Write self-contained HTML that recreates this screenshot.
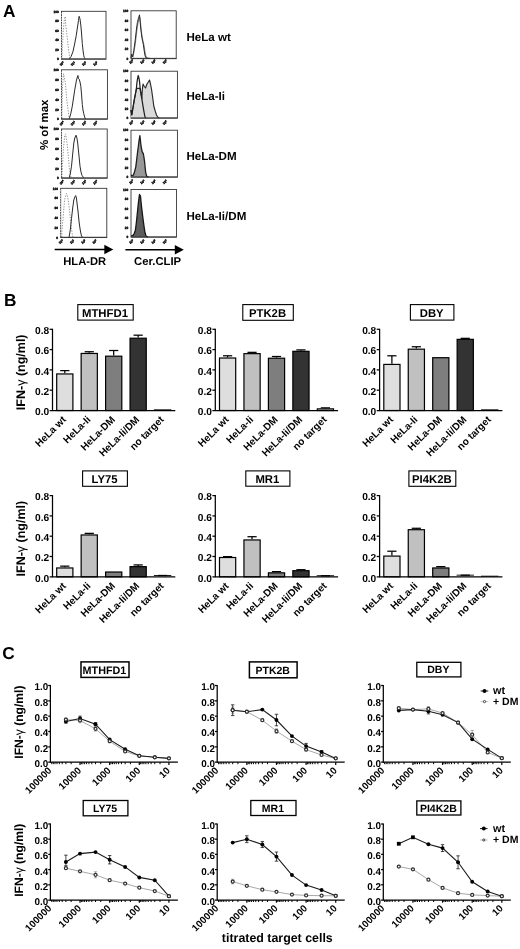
<!DOCTYPE html>
<html lang="en">
<head>
<meta charset="utf-8">
<title>Figure</title>
<style>
html,body{margin:0;padding:0;background:#fff;}
body{width:520px;height:949px;overflow:hidden;}
svg{display:block;}
svg text{font-family:"Liberation Sans", sans-serif;fill:#000;text-rendering:geometricPrecision;}
</style>
</head>
<body>
<svg width="520" height="949" viewBox="0 0 520 949">
<rect x="0" y="0" width="520" height="949" fill="#ffffff"/>
<g id="panelA">
<text x="3.00" y="17.30" font-size="17.3" font-weight="bold" text-anchor="start">A</text>
<rect x="61.5" y="11.3" width="44.5" height="47.9" fill="#fff" stroke="#2c2c2c" stroke-width="0.85"/>
<text x="58.9" y="12.5" font-size="3.2" font-weight="bold" text-anchor="end" fill="#111" stroke="#111" stroke-width="0.4">100</text>
<text x="58.9" y="22.0" font-size="3.2" font-weight="bold" text-anchor="end" fill="#111" stroke="#111" stroke-width="0.4">80</text>
<text x="58.9" y="31.6" font-size="3.2" font-weight="bold" text-anchor="end" fill="#111" stroke="#111" stroke-width="0.4">60</text>
<text x="58.9" y="41.2" font-size="3.2" font-weight="bold" text-anchor="end" fill="#111" stroke="#111" stroke-width="0.4">40</text>
<text x="58.9" y="50.8" font-size="3.2" font-weight="bold" text-anchor="end" fill="#111" stroke="#111" stroke-width="0.4">20</text>
<text x="58.9" y="60.4" font-size="3.2" font-weight="bold" text-anchor="end" fill="#111" stroke="#111" stroke-width="0.4">0</text>
<text x="61.9" y="64.8" font-size="3.2" font-weight="bold" text-anchor="middle" fill="#111" stroke="#111" stroke-width="0.4" transform="rotate(-38 61.9 63.8)">10<tspan dy="-1.2" font-size="2.2">0</tspan></text>
<text x="73.1" y="64.8" font-size="3.2" font-weight="bold" text-anchor="middle" fill="#111" stroke="#111" stroke-width="0.4" transform="rotate(-38 73.1 63.8)">10<tspan dy="-1.2" font-size="2.2">1</tspan></text>
<text x="84.3" y="64.8" font-size="3.2" font-weight="bold" text-anchor="middle" fill="#111" stroke="#111" stroke-width="0.4" transform="rotate(-38 84.3 63.8)">10<tspan dy="-1.2" font-size="2.2">2</tspan></text>
<text x="95.5" y="64.8" font-size="3.2" font-weight="bold" text-anchor="middle" fill="#111" stroke="#111" stroke-width="0.4" transform="rotate(-38 95.5 63.8)">10<tspan dy="-1.2" font-size="2.2">3</tspan></text>
<polyline points="62.0,59.0 62.5,45.0 63.3,30.0 64.4,19.0 65.3,16.5 65.7,25.0 66.4,30.0 67.0,35.8 67.6,41.0 68.2,46.5 68.8,51.0 69.3,54.6 70.0,59.0" fill="none" stroke="#7c7c7c" stroke-width="0.85" stroke-dasharray="1.3 1.4"/>
<line x1="61.5" y1="13.3" x2="61.5" y2="58.2" stroke="#fff" stroke-width="1.3" stroke-dasharray="0.9 1.7" opacity="0.75"/>
<polyline points="69.3,58.8 71.2,56.3 73.1,51.2 74.6,44.0 76.2,35.8 77.5,27.0 78.5,20.4 79.1,16.3 79.9,18.5 80.8,25.0 81.6,34.0 82.3,43.5 83.1,51.0 83.8,55.8 84.4,57.8 85.2,58.8" fill="none" stroke="#2a2a2a" stroke-width="1.0" stroke-linejoin="round"/>
<line x1="61.5" y1="58.85" x2="106.0" y2="58.85" stroke="#333" stroke-width="0.9"/>
<rect x="61.5" y="69.8" width="45.9" height="49.4" fill="#fff" stroke="#2c2c2c" stroke-width="0.85"/>
<text x="58.9" y="71.0" font-size="3.2" font-weight="bold" text-anchor="end" fill="#111" stroke="#111" stroke-width="0.4">100</text>
<text x="58.9" y="80.8" font-size="3.2" font-weight="bold" text-anchor="end" fill="#111" stroke="#111" stroke-width="0.4">80</text>
<text x="58.9" y="90.7" font-size="3.2" font-weight="bold" text-anchor="end" fill="#111" stroke="#111" stroke-width="0.4">60</text>
<text x="58.9" y="100.6" font-size="3.2" font-weight="bold" text-anchor="end" fill="#111" stroke="#111" stroke-width="0.4">40</text>
<text x="58.9" y="110.5" font-size="3.2" font-weight="bold" text-anchor="end" fill="#111" stroke="#111" stroke-width="0.4">20</text>
<text x="58.9" y="120.4" font-size="3.2" font-weight="bold" text-anchor="end" fill="#111" stroke="#111" stroke-width="0.4">0</text>
<text x="61.9" y="124.4" font-size="3.2" font-weight="bold" text-anchor="middle" fill="#111" stroke="#111" stroke-width="0.4" transform="rotate(-38 61.9 123.4)">10<tspan dy="-1.2" font-size="2.2">0</tspan></text>
<text x="73.1" y="124.4" font-size="3.2" font-weight="bold" text-anchor="middle" fill="#111" stroke="#111" stroke-width="0.4" transform="rotate(-38 73.1 123.4)">10<tspan dy="-1.2" font-size="2.2">1</tspan></text>
<text x="84.3" y="124.4" font-size="3.2" font-weight="bold" text-anchor="middle" fill="#111" stroke="#111" stroke-width="0.4" transform="rotate(-38 84.3 123.4)">10<tspan dy="-1.2" font-size="2.2">2</tspan></text>
<text x="95.5" y="124.4" font-size="3.2" font-weight="bold" text-anchor="middle" fill="#111" stroke="#111" stroke-width="0.4" transform="rotate(-38 95.5 123.4)">10<tspan dy="-1.2" font-size="2.2">3</tspan></text>
<polyline points="61.9,118.0 62.2,100.0 62.6,85.0 63.5,73.8 64.4,78.0 65.4,83.0 66.0,90.0 66.6,98.5 67.4,105.0 68.2,110.8 69.2,118.0" fill="none" stroke="#7c7c7c" stroke-width="0.85" stroke-dasharray="1.3 1.4"/>
<line x1="61.5" y1="71.8" x2="61.5" y2="118.2" stroke="#fff" stroke-width="1.3" stroke-dasharray="0.9 1.7" opacity="0.75"/>
<polyline points="69.3,118.8 70.8,113.5 72.3,106.2 73.5,98.0 74.6,90.8 75.6,85.0 76.5,80.0 77.9,75.5 78.5,78.6 79.2,79.2 80.0,82.0 80.8,86.2 81.6,95.0 82.3,104.6 83.0,110.0 83.8,113.8 84.6,117.0 85.5,118.8" fill="none" stroke="#2a2a2a" stroke-width="1.0" stroke-linejoin="round"/>
<line x1="61.5" y1="118.85" x2="107.4" y2="118.85" stroke="#333" stroke-width="0.9"/>
<rect x="61.5" y="129.0" width="45.7" height="49.2" fill="#fff" stroke="#2c2c2c" stroke-width="0.85"/>
<text x="58.9" y="130.2" font-size="3.2" font-weight="bold" text-anchor="end" fill="#111" stroke="#111" stroke-width="0.4">100</text>
<text x="58.9" y="140.0" font-size="3.2" font-weight="bold" text-anchor="end" fill="#111" stroke="#111" stroke-width="0.4">80</text>
<text x="58.9" y="149.8" font-size="3.2" font-weight="bold" text-anchor="end" fill="#111" stroke="#111" stroke-width="0.4">60</text>
<text x="58.9" y="159.7" font-size="3.2" font-weight="bold" text-anchor="end" fill="#111" stroke="#111" stroke-width="0.4">40</text>
<text x="58.9" y="169.5" font-size="3.2" font-weight="bold" text-anchor="end" fill="#111" stroke="#111" stroke-width="0.4">20</text>
<text x="58.9" y="179.3" font-size="3.2" font-weight="bold" text-anchor="end" fill="#111" stroke="#111" stroke-width="0.4">0</text>
<text x="61.9" y="183.4" font-size="3.2" font-weight="bold" text-anchor="middle" fill="#111" stroke="#111" stroke-width="0.4" transform="rotate(-38 61.9 182.4)">10<tspan dy="-1.2" font-size="2.2">0</tspan></text>
<text x="73.1" y="183.4" font-size="3.2" font-weight="bold" text-anchor="middle" fill="#111" stroke="#111" stroke-width="0.4" transform="rotate(-38 73.1 182.4)">10<tspan dy="-1.2" font-size="2.2">1</tspan></text>
<text x="84.3" y="183.4" font-size="3.2" font-weight="bold" text-anchor="middle" fill="#111" stroke="#111" stroke-width="0.4" transform="rotate(-38 84.3 182.4)">10<tspan dy="-1.2" font-size="2.2">2</tspan></text>
<text x="95.5" y="183.4" font-size="3.2" font-weight="bold" text-anchor="middle" fill="#111" stroke="#111" stroke-width="0.4" transform="rotate(-38 95.5 182.4)">10<tspan dy="-1.2" font-size="2.2">3</tspan></text>
<polyline points="61.9,177.5 62.5,165.0 63.5,148.0 64.8,134.8 65.6,134.0 66.3,138.0 67.0,143.0 67.8,150.0 68.5,158.5 69.3,168.0 70.3,174.0 71.0,177.5" fill="none" stroke="#7c7c7c" stroke-width="0.85" stroke-dasharray="1.3 1.4"/>
<line x1="61.5" y1="131.0" x2="61.5" y2="177.2" stroke="#fff" stroke-width="1.3" stroke-dasharray="0.9 1.7" opacity="0.75"/>
<polyline points="69.3,177.8 70.4,173.0 71.5,166.2 72.7,154.0 73.8,143.0 74.8,138.0 76.0,135.2 76.9,138.0 77.7,143.0 78.8,154.0 80.0,166.2 81.0,172.0 82.0,175.4 83.7,177.8" fill="none" stroke="#2a2a2a" stroke-width="1.0" stroke-linejoin="round"/>
<line x1="61.5" y1="177.85" x2="107.2" y2="177.85" stroke="#333" stroke-width="0.9"/>
<rect x="60.7" y="188.3" width="46.1" height="49.3" fill="#fff" stroke="#2c2c2c" stroke-width="0.85"/>
<text x="58.1" y="189.5" font-size="3.2" font-weight="bold" text-anchor="end" fill="#111" stroke="#111" stroke-width="0.4">100</text>
<text x="58.1" y="199.3" font-size="3.2" font-weight="bold" text-anchor="end" fill="#111" stroke="#111" stroke-width="0.4">80</text>
<text x="58.1" y="209.2" font-size="3.2" font-weight="bold" text-anchor="end" fill="#111" stroke="#111" stroke-width="0.4">60</text>
<text x="58.1" y="219.0" font-size="3.2" font-weight="bold" text-anchor="end" fill="#111" stroke="#111" stroke-width="0.4">40</text>
<text x="58.1" y="228.9" font-size="3.2" font-weight="bold" text-anchor="end" fill="#111" stroke="#111" stroke-width="0.4">20</text>
<text x="58.1" y="238.8" font-size="3.2" font-weight="bold" text-anchor="end" fill="#111" stroke="#111" stroke-width="0.4">0</text>
<text x="61.1" y="242.8" font-size="3.2" font-weight="bold" text-anchor="middle" fill="#111" stroke="#111" stroke-width="0.4" transform="rotate(-38 61.1 241.8)">10<tspan dy="-1.2" font-size="2.2">0</tspan></text>
<text x="72.3" y="242.8" font-size="3.2" font-weight="bold" text-anchor="middle" fill="#111" stroke="#111" stroke-width="0.4" transform="rotate(-38 72.3 241.8)">10<tspan dy="-1.2" font-size="2.2">1</tspan></text>
<text x="83.5" y="242.8" font-size="3.2" font-weight="bold" text-anchor="middle" fill="#111" stroke="#111" stroke-width="0.4" transform="rotate(-38 83.5 241.8)">10<tspan dy="-1.2" font-size="2.2">2</tspan></text>
<text x="94.7" y="242.8" font-size="3.2" font-weight="bold" text-anchor="middle" fill="#111" stroke="#111" stroke-width="0.4" transform="rotate(-38 94.7 241.8)">10<tspan dy="-1.2" font-size="2.2">3</tspan></text>
<polyline points="61.6,237.0 62.2,228.0 63.0,218.5 63.8,209.0 64.6,200.0 65.6,196.0 66.4,193.6 67.4,196.0 68.2,200.0 69.3,208.5 70.0,215.0 70.5,220.0 71.4,228.0 72.2,234.0 73.0,237.0" fill="none" stroke="#7c7c7c" stroke-width="0.85" stroke-dasharray="1.3 1.4"/>
<line x1="60.7" y1="190.3" x2="60.7" y2="236.6" stroke="#fff" stroke-width="1.3" stroke-dasharray="0.9 1.7" opacity="0.75"/>
<polyline points="69.1,237.2 70.4,229.0 71.5,218.5 72.7,208.0 73.8,200.0 74.8,197.0 75.7,195.6 76.4,198.0 77.0,203.0 78.1,212.0 79.2,223.0 80.4,231.0 81.5,236.0 82.6,237.2" fill="none" stroke="#2a2a2a" stroke-width="1.0" stroke-linejoin="round"/>
<line x1="60.7" y1="237.25" x2="106.8" y2="237.25" stroke="#333" stroke-width="0.9"/>
<rect x="131.0" y="10.8" width="45.2" height="47.9" fill="#fff" stroke="#2c2c2c" stroke-width="0.85"/>
<text x="128.4" y="12.0" font-size="3.2" font-weight="bold" text-anchor="end" fill="#111" stroke="#111" stroke-width="0.4">100</text>
<text x="128.4" y="21.5" font-size="3.2" font-weight="bold" text-anchor="end" fill="#111" stroke="#111" stroke-width="0.4">80</text>
<text x="128.4" y="31.1" font-size="3.2" font-weight="bold" text-anchor="end" fill="#111" stroke="#111" stroke-width="0.4">60</text>
<text x="128.4" y="40.7" font-size="3.2" font-weight="bold" text-anchor="end" fill="#111" stroke="#111" stroke-width="0.4">40</text>
<text x="128.4" y="50.3" font-size="3.2" font-weight="bold" text-anchor="end" fill="#111" stroke="#111" stroke-width="0.4">20</text>
<text x="128.4" y="59.9" font-size="3.2" font-weight="bold" text-anchor="end" fill="#111" stroke="#111" stroke-width="0.4">0</text>
<text x="131.4" y="62.8" font-size="3.2" font-weight="bold" text-anchor="middle" fill="#111" stroke="#111" stroke-width="0.4" transform="rotate(-38 131.4 61.8)">10<tspan dy="-1.2" font-size="2.2">0</tspan></text>
<text x="142.6" y="62.8" font-size="3.2" font-weight="bold" text-anchor="middle" fill="#111" stroke="#111" stroke-width="0.4" transform="rotate(-38 142.6 61.8)">10<tspan dy="-1.2" font-size="2.2">1</tspan></text>
<text x="153.8" y="62.8" font-size="3.2" font-weight="bold" text-anchor="middle" fill="#111" stroke="#111" stroke-width="0.4" transform="rotate(-38 153.8 61.8)">10<tspan dy="-1.2" font-size="2.2">2</tspan></text>
<text x="165.0" y="62.8" font-size="3.2" font-weight="bold" text-anchor="middle" fill="#111" stroke="#111" stroke-width="0.4" transform="rotate(-38 165.0 61.8)">10<tspan dy="-1.2" font-size="2.2">3</tspan></text>
<polyline points="131.0,58.2 131.9,55.0 133.0,56.6 134.3,50.0 135.5,42.0 136.3,35.0 137.1,28.5 137.9,23.5 138.8,19.5 139.8,17.0 140.5,23.0 141.2,30.0 142.0,36.0 142.7,40.0 143.5,43.0 144.3,47.0 145.1,52.5 145.9,56.3 146.9,57.8 148.2,58.3" fill="none" stroke="#8a8a8a" stroke-width="1.1"/>
<polyline points="131.0,58.2 131.5,54.0 132.6,56.8 133.8,50.5 135.0,42.0 135.8,35.0 136.6,28.0 137.4,22.5 138.4,18.5 139.5,14.8 140.0,20.0 140.6,27.0 141.3,33.0 142.0,38.0 142.7,41.5 143.3,44.2 144.1,50.0 144.9,55.0 145.7,57.5 147.2,58.3 150.0,58.4" fill="none" stroke="#2a2a2a" stroke-width="1.0"/>
<line x1="131.0" y1="58.35" x2="176.2" y2="58.35" stroke="#333" stroke-width="0.9"/>
<rect x="131.0" y="71.2" width="46.4" height="47.0" fill="#fff" stroke="#2c2c2c" stroke-width="0.85"/>
<text x="128.4" y="72.4" font-size="3.2" font-weight="bold" text-anchor="end" fill="#111" stroke="#111" stroke-width="0.4">100</text>
<text x="128.4" y="81.8" font-size="3.2" font-weight="bold" text-anchor="end" fill="#111" stroke="#111" stroke-width="0.4">80</text>
<text x="128.4" y="91.2" font-size="3.2" font-weight="bold" text-anchor="end" fill="#111" stroke="#111" stroke-width="0.4">60</text>
<text x="128.4" y="100.6" font-size="3.2" font-weight="bold" text-anchor="end" fill="#111" stroke="#111" stroke-width="0.4">40</text>
<text x="128.4" y="110.0" font-size="3.2" font-weight="bold" text-anchor="end" fill="#111" stroke="#111" stroke-width="0.4">20</text>
<text x="128.4" y="119.4" font-size="3.2" font-weight="bold" text-anchor="end" fill="#111" stroke="#111" stroke-width="0.4">0</text>
<text x="131.4" y="123.8" font-size="3.2" font-weight="bold" text-anchor="middle" fill="#111" stroke="#111" stroke-width="0.4" transform="rotate(-38 131.4 122.8)">10<tspan dy="-1.2" font-size="2.2">0</tspan></text>
<text x="142.6" y="123.8" font-size="3.2" font-weight="bold" text-anchor="middle" fill="#111" stroke="#111" stroke-width="0.4" transform="rotate(-38 142.6 122.8)">10<tspan dy="-1.2" font-size="2.2">1</tspan></text>
<text x="153.8" y="123.8" font-size="3.2" font-weight="bold" text-anchor="middle" fill="#111" stroke="#111" stroke-width="0.4" transform="rotate(-38 153.8 122.8)">10<tspan dy="-1.2" font-size="2.2">2</tspan></text>
<text x="165.0" y="123.8" font-size="3.2" font-weight="bold" text-anchor="middle" fill="#111" stroke="#111" stroke-width="0.4" transform="rotate(-38 165.0 122.8)">10<tspan dy="-1.2" font-size="2.2">3</tspan></text>
<polygon points="131.0,110.0 131.8,114.8 132.6,110.0 133.5,104.5 134.5,98.6 135.5,93.5 136.4,88.8 137.2,88.4 139.3,88.4 140.2,88.8 141.0,93.7 141.8,98.6 142.3,90.0 143.0,84.0 144.3,86.5 145.5,88.0 147.0,84.0 148.3,82.0 149.5,80.0 150.5,84.0 151.5,89.0 152.6,97.0 153.8,106.0 155.2,111.0 156.5,115.0 157.7,117.0 159.2,117.9 131.0,117.9" fill="#dadada" stroke="none"/>
<polyline points="131.0,110.0 131.8,114.8 132.6,110.0 133.5,104.5 134.5,98.6 135.5,93.5 136.4,88.8 137.2,88.4 139.3,88.4 140.2,88.8 141.0,93.7 141.8,98.6 142.3,90.0 143.0,84.0 144.3,86.5 145.5,88.0 147.0,84.0 148.3,82.0 149.5,80.0 150.5,84.0 151.5,89.0 152.6,97.0 153.8,106.0 155.2,111.0 156.5,115.0 157.7,117.0 159.2,117.9" fill="none" stroke="#2a2a2a" stroke-width="1.15" stroke-linejoin="round"/>
<polyline points="131.0,110.0 131.8,114.8 132.6,110.0 133.5,104.5 134.5,98.6 135.5,93.5 136.4,88.8 136.8,84.0 137.3,80.0 138.2,75.5 139.0,78.5 139.5,81.3 140.2,88.8 141.0,93.7 141.8,98.6 142.6,103.5 143.3,107.8 144.2,113.0 145.0,117.0 146.0,117.9" fill="none" stroke="#1e1e1e" stroke-width="1.25" stroke-linejoin="round"/>
<line x1="131.0" y1="117.85" x2="177.4" y2="117.85" stroke="#333" stroke-width="0.9"/>
<rect x="131.0" y="130.2" width="46.4" height="47.0" fill="#fff" stroke="#2c2c2c" stroke-width="0.85"/>
<text x="128.4" y="131.3" font-size="3.2" font-weight="bold" text-anchor="end" fill="#111" stroke="#111" stroke-width="0.4">100</text>
<text x="128.4" y="140.8" font-size="3.2" font-weight="bold" text-anchor="end" fill="#111" stroke="#111" stroke-width="0.4">80</text>
<text x="128.4" y="150.2" font-size="3.2" font-weight="bold" text-anchor="end" fill="#111" stroke="#111" stroke-width="0.4">60</text>
<text x="128.4" y="159.5" font-size="3.2" font-weight="bold" text-anchor="end" fill="#111" stroke="#111" stroke-width="0.4">40</text>
<text x="128.4" y="168.9" font-size="3.2" font-weight="bold" text-anchor="end" fill="#111" stroke="#111" stroke-width="0.4">20</text>
<text x="128.4" y="178.3" font-size="3.2" font-weight="bold" text-anchor="end" fill="#111" stroke="#111" stroke-width="0.4">0</text>
<text x="131.4" y="183.0" font-size="3.2" font-weight="bold" text-anchor="middle" fill="#111" stroke="#111" stroke-width="0.4" transform="rotate(-38 131.4 182.0)">10<tspan dy="-1.2" font-size="2.2">0</tspan></text>
<text x="142.6" y="183.0" font-size="3.2" font-weight="bold" text-anchor="middle" fill="#111" stroke="#111" stroke-width="0.4" transform="rotate(-38 142.6 182.0)">10<tspan dy="-1.2" font-size="2.2">1</tspan></text>
<text x="153.8" y="183.0" font-size="3.2" font-weight="bold" text-anchor="middle" fill="#111" stroke="#111" stroke-width="0.4" transform="rotate(-38 153.8 182.0)">10<tspan dy="-1.2" font-size="2.2">2</tspan></text>
<text x="165.0" y="183.0" font-size="3.2" font-weight="bold" text-anchor="middle" fill="#111" stroke="#111" stroke-width="0.4" transform="rotate(-38 165.0 182.0)">10<tspan dy="-1.2" font-size="2.2">3</tspan></text>
<polygon points="131.0,175.2 132.2,175.6 133.5,175.0 134.6,171.5 135.8,166.8 136.7,159.5 137.6,151.8 138.4,146.0 139.1,140.3 139.9,135.7 140.5,141.0 141.0,146.0 141.6,149.0 142.2,151.8 143.3,153.6 143.9,157.0 144.5,161.0 145.1,167.0 145.7,172.6 146.8,176.4 148.5,176.9 131.0,176.9" fill="#989898" stroke="none"/>
<polyline points="131.0,175.2 132.2,175.6 133.5,175.0 134.6,171.5 135.8,166.8 136.7,159.5 137.6,151.8 138.4,146.0 139.1,140.3 139.9,135.7 140.5,141.0 141.0,146.0 141.6,149.0 142.2,151.8 143.3,153.6 143.9,157.0 144.5,161.0 145.1,167.0 145.7,172.6 146.8,176.4 148.5,176.9" fill="none" stroke="#1e1e1e" stroke-width="1.3" stroke-linejoin="round"/>
<line x1="131.0" y1="176.85" x2="177.4" y2="176.85" stroke="#333" stroke-width="0.9"/>
<rect x="131.0" y="189.5" width="45.5" height="47.7" fill="#fff" stroke="#2c2c2c" stroke-width="0.85"/>
<text x="128.4" y="190.7" font-size="3.2" font-weight="bold" text-anchor="end" fill="#111" stroke="#111" stroke-width="0.4">100</text>
<text x="128.4" y="200.2" font-size="3.2" font-weight="bold" text-anchor="end" fill="#111" stroke="#111" stroke-width="0.4">80</text>
<text x="128.4" y="209.7" font-size="3.2" font-weight="bold" text-anchor="end" fill="#111" stroke="#111" stroke-width="0.4">60</text>
<text x="128.4" y="219.3" font-size="3.2" font-weight="bold" text-anchor="end" fill="#111" stroke="#111" stroke-width="0.4">40</text>
<text x="128.4" y="228.8" font-size="3.2" font-weight="bold" text-anchor="end" fill="#111" stroke="#111" stroke-width="0.4">20</text>
<text x="128.4" y="238.3" font-size="3.2" font-weight="bold" text-anchor="end" fill="#111" stroke="#111" stroke-width="0.4">0</text>
<text x="131.4" y="242.8" font-size="3.2" font-weight="bold" text-anchor="middle" fill="#111" stroke="#111" stroke-width="0.4" transform="rotate(-38 131.4 241.8)">10<tspan dy="-1.2" font-size="2.2">0</tspan></text>
<text x="142.6" y="242.8" font-size="3.2" font-weight="bold" text-anchor="middle" fill="#111" stroke="#111" stroke-width="0.4" transform="rotate(-38 142.6 241.8)">10<tspan dy="-1.2" font-size="2.2">1</tspan></text>
<text x="153.8" y="242.8" font-size="3.2" font-weight="bold" text-anchor="middle" fill="#111" stroke="#111" stroke-width="0.4" transform="rotate(-38 153.8 241.8)">10<tspan dy="-1.2" font-size="2.2">2</tspan></text>
<text x="165.0" y="242.8" font-size="3.2" font-weight="bold" text-anchor="middle" fill="#111" stroke="#111" stroke-width="0.4" transform="rotate(-38 165.0 241.8)">10<tspan dy="-1.2" font-size="2.2">3</tspan></text>
<polygon points="131.0,236.0 133.0,235.3 134.2,233.5 135.3,230.5 136.2,224.0 137.0,216.6 137.7,209.5 138.4,202.8 139.0,198.0 139.5,194.5 140.5,196.4 141.0,201.5 141.6,207.4 142.4,214.0 143.3,221.2 144.2,227.5 145.0,232.8 146.2,236.4 148.0,236.9 131.0,236.9" fill="#5c5c5c" stroke="none"/>
<polyline points="131.0,236.0 133.0,235.3 134.2,233.5 135.3,230.5 136.2,224.0 137.0,216.6 137.7,209.5 138.4,202.8 139.0,198.0 139.5,194.5 140.5,196.4 141.0,201.5 141.6,207.4 142.4,214.0 143.3,221.2 144.2,227.5 145.0,232.8 146.2,236.4 148.0,236.9" fill="none" stroke="#161616" stroke-width="1.3" stroke-linejoin="round"/>
<line x1="131.0" y1="236.85" x2="176.5" y2="236.85" stroke="#333" stroke-width="0.9"/>
<text x="186.40" y="40.80" font-size="11.6" font-weight="bold" text-anchor="start">HeLa wt</text>
<text x="186.40" y="100.40" font-size="11.6" font-weight="bold" text-anchor="start">HeLa-Ii</text>
<text x="186.40" y="160.40" font-size="11.6" font-weight="bold" text-anchor="start">HeLa-DM</text>
<text x="186.40" y="220.10" font-size="11.6" font-weight="bold" text-anchor="start">HeLa-Ii/DM</text>
<text x="47.70" y="124.80" font-size="11.5" font-weight="bold" text-anchor="middle" transform="rotate(-90 47.70 124.80)">% of max</text>
<line x1="54.7" y1="249.5" x2="105.3" y2="249.5" stroke="#000" stroke-width="1.6"/>
<polygon points="104.3,244.7 113.3,249.5 104.3,254.3" fill="#000"/>
<line x1="125.4" y1="249.8" x2="175.8" y2="249.8" stroke="#000" stroke-width="1.6"/>
<polygon points="174.8,245.0 183.8,249.8 174.8,254.6" fill="#000"/>
<text x="84.70" y="264.60" font-size="11.2" font-weight="bold" text-anchor="middle">HLA-DR</text>
<text x="157.60" y="264.60" font-size="11.3" font-weight="bold" text-anchor="middle">Cer.CLIP</text>
</g>
<g id="panelB">
<text x="4.00" y="306.30" font-size="17.3" font-weight="bold" text-anchor="start">B</text>
<line x1="64.80" y1="373.35" x2="64.80" y2="370.61" stroke="#000" stroke-width="1.25"/>
<line x1="60.20" y1="370.61" x2="69.40" y2="370.61" stroke="#000" stroke-width="1.25"/>
<rect x="56.70" y="373.95" width="16.20" height="36.55" fill="#dedede" stroke="#000" stroke-width="1.2"/>
<line x1="89.25" y1="352.85" x2="89.25" y2="351.73" stroke="#000" stroke-width="1.25"/>
<line x1="84.65" y1="351.73" x2="93.85" y2="351.73" stroke="#000" stroke-width="1.25"/>
<rect x="81.15" y="353.45" width="16.20" height="57.05" fill="#c0c0c0" stroke="#000" stroke-width="1.2"/>
<line x1="113.70" y1="355.59" x2="113.70" y2="350.51" stroke="#000" stroke-width="1.25"/>
<line x1="109.10" y1="350.51" x2="118.30" y2="350.51" stroke="#000" stroke-width="1.25"/>
<rect x="105.60" y="356.19" width="16.20" height="54.31" fill="#7e7e7e" stroke="#000" stroke-width="1.2"/>
<line x1="138.15" y1="337.62" x2="138.15" y2="335.19" stroke="#000" stroke-width="1.25"/>
<line x1="133.55" y1="335.19" x2="142.75" y2="335.19" stroke="#000" stroke-width="1.25"/>
<rect x="130.05" y="338.22" width="16.20" height="72.28" fill="#333333" stroke="#000" stroke-width="1.2"/>
<line x1="153.90" y1="409.79" x2="171.30" y2="409.79" stroke="#000" stroke-width="0.9"/>
<line x1="52.50" y1="328.75" x2="52.50" y2="411.05" stroke="#000" stroke-width="1.25"/>
<line x1="49.60" y1="410.50" x2="175.30" y2="410.50" stroke="#000" stroke-width="1.25"/>
<text x="49.20" y="415.30" font-size="10.2" font-weight="bold" text-anchor="end">0.0</text>
<line x1="49.60" y1="390.20" x2="52.50" y2="390.20" stroke="#000" stroke-width="1.25"/>
<text x="49.20" y="395.00" font-size="10.2" font-weight="bold" text-anchor="end">0.2</text>
<line x1="49.60" y1="369.90" x2="52.50" y2="369.90" stroke="#000" stroke-width="1.25"/>
<text x="49.20" y="374.70" font-size="10.2" font-weight="bold" text-anchor="end">0.4</text>
<line x1="49.60" y1="349.60" x2="52.50" y2="349.60" stroke="#000" stroke-width="1.25"/>
<text x="49.20" y="354.40" font-size="10.2" font-weight="bold" text-anchor="end">0.6</text>
<line x1="49.60" y1="329.30" x2="52.50" y2="329.30" stroke="#000" stroke-width="1.25"/>
<text x="49.20" y="334.10" font-size="10.2" font-weight="bold" text-anchor="end">0.8</text>
<text x="66.70" y="420.20" font-size="10.1" font-weight="bold" text-anchor="end" transform="rotate(-45 66.70 420.20)">HeLa wt</text>
<text x="91.15" y="420.20" font-size="10.1" font-weight="bold" text-anchor="end" transform="rotate(-45 91.15 420.20)">HeLa-Ii</text>
<text x="115.60" y="420.20" font-size="10.1" font-weight="bold" text-anchor="end" transform="rotate(-45 115.60 420.20)">HeLa-DM</text>
<text x="140.05" y="420.20" font-size="10.1" font-weight="bold" text-anchor="end" transform="rotate(-45 140.05 420.20)">HeLa-Ii/DM</text>
<text x="164.50" y="420.20" font-size="10.1" font-weight="bold" text-anchor="end" transform="rotate(-45 164.50 420.20)">no target</text>
<line x1="227.60" y1="357.42" x2="227.60" y2="355.79" stroke="#000" stroke-width="1.25"/>
<line x1="223.00" y1="355.79" x2="232.20" y2="355.79" stroke="#000" stroke-width="1.25"/>
<rect x="219.50" y="358.02" width="16.20" height="52.48" fill="#dedede" stroke="#000" stroke-width="1.2"/>
<line x1="252.05" y1="353.05" x2="252.05" y2="352.34" stroke="#000" stroke-width="1.25"/>
<line x1="247.45" y1="352.34" x2="256.65" y2="352.34" stroke="#000" stroke-width="1.25"/>
<rect x="243.95" y="353.65" width="16.20" height="56.85" fill="#c0c0c0" stroke="#000" stroke-width="1.2"/>
<line x1="276.50" y1="357.62" x2="276.50" y2="356.50" stroke="#000" stroke-width="1.25"/>
<line x1="271.90" y1="356.50" x2="281.10" y2="356.50" stroke="#000" stroke-width="1.25"/>
<rect x="268.40" y="358.22" width="16.20" height="52.28" fill="#7e7e7e" stroke="#000" stroke-width="1.2"/>
<line x1="300.95" y1="350.72" x2="300.95" y2="349.90" stroke="#000" stroke-width="1.25"/>
<line x1="296.35" y1="349.90" x2="305.55" y2="349.90" stroke="#000" stroke-width="1.25"/>
<rect x="292.85" y="351.32" width="16.20" height="59.18" fill="#333333" stroke="#000" stroke-width="1.2"/>
<line x1="325.40" y1="408.27" x2="325.40" y2="407.86" stroke="#000" stroke-width="1.25"/>
<line x1="320.80" y1="407.86" x2="330.00" y2="407.86" stroke="#000" stroke-width="1.25"/>
<rect x="317.30" y="408.87" width="16.20" height="1.63" fill="#e8e8e8" stroke="#000" stroke-width="1.2"/>
<line x1="215.30" y1="328.75" x2="215.30" y2="411.05" stroke="#000" stroke-width="1.25"/>
<line x1="212.40" y1="410.50" x2="338.10" y2="410.50" stroke="#000" stroke-width="1.25"/>
<text x="212.00" y="415.30" font-size="10.2" font-weight="bold" text-anchor="end">0.0</text>
<line x1="212.40" y1="390.20" x2="215.30" y2="390.20" stroke="#000" stroke-width="1.25"/>
<text x="212.00" y="395.00" font-size="10.2" font-weight="bold" text-anchor="end">0.2</text>
<line x1="212.40" y1="369.90" x2="215.30" y2="369.90" stroke="#000" stroke-width="1.25"/>
<text x="212.00" y="374.70" font-size="10.2" font-weight="bold" text-anchor="end">0.4</text>
<line x1="212.40" y1="349.60" x2="215.30" y2="349.60" stroke="#000" stroke-width="1.25"/>
<text x="212.00" y="354.40" font-size="10.2" font-weight="bold" text-anchor="end">0.6</text>
<line x1="212.40" y1="329.30" x2="215.30" y2="329.30" stroke="#000" stroke-width="1.25"/>
<text x="212.00" y="334.10" font-size="10.2" font-weight="bold" text-anchor="end">0.8</text>
<text x="229.50" y="420.20" font-size="10.1" font-weight="bold" text-anchor="end" transform="rotate(-45 229.50 420.20)">HeLa wt</text>
<text x="253.95" y="420.20" font-size="10.1" font-weight="bold" text-anchor="end" transform="rotate(-45 253.95 420.20)">HeLa-Ii</text>
<text x="278.40" y="420.20" font-size="10.1" font-weight="bold" text-anchor="end" transform="rotate(-45 278.40 420.20)">HeLa-DM</text>
<text x="302.85" y="420.20" font-size="10.1" font-weight="bold" text-anchor="end" transform="rotate(-45 302.85 420.20)">HeLa-Ii/DM</text>
<text x="327.30" y="420.20" font-size="10.1" font-weight="bold" text-anchor="end" transform="rotate(-45 327.30 420.20)">no target</text>
<line x1="391.90" y1="363.81" x2="391.90" y2="355.79" stroke="#000" stroke-width="1.25"/>
<line x1="387.30" y1="355.79" x2="396.50" y2="355.79" stroke="#000" stroke-width="1.25"/>
<rect x="383.80" y="364.41" width="16.20" height="46.09" fill="#dedede" stroke="#000" stroke-width="1.2"/>
<line x1="416.35" y1="348.59" x2="416.35" y2="346.76" stroke="#000" stroke-width="1.25"/>
<line x1="411.75" y1="346.76" x2="420.95" y2="346.76" stroke="#000" stroke-width="1.25"/>
<rect x="408.25" y="349.19" width="16.20" height="61.31" fill="#c0c0c0" stroke="#000" stroke-width="1.2"/>
<rect x="432.70" y="357.71" width="16.20" height="52.79" fill="#7e7e7e" stroke="#000" stroke-width="1.2"/>
<line x1="465.25" y1="338.74" x2="465.25" y2="338.33" stroke="#000" stroke-width="1.25"/>
<line x1="460.65" y1="338.33" x2="469.85" y2="338.33" stroke="#000" stroke-width="1.25"/>
<rect x="457.15" y="339.34" width="16.20" height="71.16" fill="#333333" stroke="#000" stroke-width="1.2"/>
<line x1="481.00" y1="409.79" x2="498.40" y2="409.79" stroke="#000" stroke-width="0.9"/>
<line x1="379.60" y1="328.75" x2="379.60" y2="411.05" stroke="#000" stroke-width="1.25"/>
<line x1="376.70" y1="410.50" x2="502.40" y2="410.50" stroke="#000" stroke-width="1.25"/>
<text x="376.30" y="415.30" font-size="10.2" font-weight="bold" text-anchor="end">0.0</text>
<line x1="376.70" y1="390.20" x2="379.60" y2="390.20" stroke="#000" stroke-width="1.25"/>
<text x="376.30" y="395.00" font-size="10.2" font-weight="bold" text-anchor="end">0.2</text>
<line x1="376.70" y1="369.90" x2="379.60" y2="369.90" stroke="#000" stroke-width="1.25"/>
<text x="376.30" y="374.70" font-size="10.2" font-weight="bold" text-anchor="end">0.4</text>
<line x1="376.70" y1="349.60" x2="379.60" y2="349.60" stroke="#000" stroke-width="1.25"/>
<text x="376.30" y="354.40" font-size="10.2" font-weight="bold" text-anchor="end">0.6</text>
<line x1="376.70" y1="329.30" x2="379.60" y2="329.30" stroke="#000" stroke-width="1.25"/>
<text x="376.30" y="334.10" font-size="10.2" font-weight="bold" text-anchor="end">0.8</text>
<text x="393.80" y="420.20" font-size="10.1" font-weight="bold" text-anchor="end" transform="rotate(-45 393.80 420.20)">HeLa wt</text>
<text x="418.25" y="420.20" font-size="10.1" font-weight="bold" text-anchor="end" transform="rotate(-45 418.25 420.20)">HeLa-Ii</text>
<text x="442.70" y="420.20" font-size="10.1" font-weight="bold" text-anchor="end" transform="rotate(-45 442.70 420.20)">HeLa-DM</text>
<text x="467.15" y="420.20" font-size="10.1" font-weight="bold" text-anchor="end" transform="rotate(-45 467.15 420.20)">HeLa-Ii/DM</text>
<text x="491.60" y="420.20" font-size="10.1" font-weight="bold" text-anchor="end" transform="rotate(-45 491.60 420.20)">no target</text>
<line x1="64.80" y1="567.36" x2="64.80" y2="566.14" stroke="#000" stroke-width="1.25"/>
<line x1="60.20" y1="566.14" x2="69.40" y2="566.14" stroke="#000" stroke-width="1.25"/>
<rect x="56.70" y="567.96" width="16.20" height="8.84" fill="#dedede" stroke="#000" stroke-width="1.2"/>
<line x1="89.25" y1="534.37" x2="89.25" y2="533.36" stroke="#000" stroke-width="1.25"/>
<line x1="84.65" y1="533.36" x2="93.85" y2="533.36" stroke="#000" stroke-width="1.25"/>
<rect x="81.15" y="534.97" width="16.20" height="41.83" fill="#c0c0c0" stroke="#000" stroke-width="1.2"/>
<rect x="105.60" y="572.02" width="16.20" height="4.78" fill="#7e7e7e" stroke="#000" stroke-width="1.2"/>
<line x1="138.15" y1="566.04" x2="138.15" y2="564.92" stroke="#000" stroke-width="1.25"/>
<line x1="133.55" y1="564.92" x2="142.75" y2="564.92" stroke="#000" stroke-width="1.25"/>
<rect x="130.05" y="566.64" width="16.20" height="10.16" fill="#333333" stroke="#000" stroke-width="1.2"/>
<line x1="162.60" y1="575.78" x2="162.60" y2="575.48" stroke="#000" stroke-width="1.25"/>
<line x1="158.00" y1="575.48" x2="167.20" y2="575.48" stroke="#000" stroke-width="1.25"/>
<line x1="153.90" y1="575.49" x2="171.30" y2="575.49" stroke="#000" stroke-width="0.9"/>
<line x1="52.50" y1="495.05" x2="52.50" y2="577.35" stroke="#000" stroke-width="1.25"/>
<line x1="49.60" y1="576.80" x2="175.30" y2="576.80" stroke="#000" stroke-width="1.25"/>
<text x="49.20" y="581.60" font-size="10.2" font-weight="bold" text-anchor="end">0.0</text>
<line x1="49.60" y1="556.50" x2="52.50" y2="556.50" stroke="#000" stroke-width="1.25"/>
<text x="49.20" y="561.30" font-size="10.2" font-weight="bold" text-anchor="end">0.2</text>
<line x1="49.60" y1="536.20" x2="52.50" y2="536.20" stroke="#000" stroke-width="1.25"/>
<text x="49.20" y="541.00" font-size="10.2" font-weight="bold" text-anchor="end">0.4</text>
<line x1="49.60" y1="515.90" x2="52.50" y2="515.90" stroke="#000" stroke-width="1.25"/>
<text x="49.20" y="520.70" font-size="10.2" font-weight="bold" text-anchor="end">0.6</text>
<line x1="49.60" y1="495.60" x2="52.50" y2="495.60" stroke="#000" stroke-width="1.25"/>
<text x="49.20" y="500.40" font-size="10.2" font-weight="bold" text-anchor="end">0.8</text>
<text x="66.70" y="586.50" font-size="10.1" font-weight="bold" text-anchor="end" transform="rotate(-45 66.70 586.50)">HeLa wt</text>
<text x="91.15" y="586.50" font-size="10.1" font-weight="bold" text-anchor="end" transform="rotate(-45 91.15 586.50)">HeLa-Ii</text>
<text x="115.60" y="586.50" font-size="10.1" font-weight="bold" text-anchor="end" transform="rotate(-45 115.60 586.50)">HeLa-DM</text>
<text x="140.05" y="586.50" font-size="10.1" font-weight="bold" text-anchor="end" transform="rotate(-45 140.05 586.50)">HeLa-Ii/DM</text>
<text x="164.50" y="586.50" font-size="10.1" font-weight="bold" text-anchor="end" transform="rotate(-45 164.50 586.50)">no target</text>
<line x1="227.60" y1="556.91" x2="227.60" y2="556.60" stroke="#000" stroke-width="1.25"/>
<line x1="223.00" y1="556.60" x2="232.20" y2="556.60" stroke="#000" stroke-width="1.25"/>
<rect x="219.50" y="557.51" width="16.20" height="19.29" fill="#dedede" stroke="#000" stroke-width="1.2"/>
<line x1="252.05" y1="539.35" x2="252.05" y2="536.71" stroke="#000" stroke-width="1.25"/>
<line x1="247.45" y1="536.71" x2="256.65" y2="536.71" stroke="#000" stroke-width="1.25"/>
<rect x="243.95" y="539.95" width="16.20" height="36.85" fill="#c0c0c0" stroke="#000" stroke-width="1.2"/>
<line x1="276.50" y1="572.23" x2="276.50" y2="571.62" stroke="#000" stroke-width="1.25"/>
<line x1="271.90" y1="571.62" x2="281.10" y2="571.62" stroke="#000" stroke-width="1.25"/>
<rect x="268.40" y="572.83" width="16.20" height="3.97" fill="#7e7e7e" stroke="#000" stroke-width="1.2"/>
<line x1="300.95" y1="570.10" x2="300.95" y2="569.69" stroke="#000" stroke-width="1.25"/>
<line x1="296.35" y1="569.69" x2="305.55" y2="569.69" stroke="#000" stroke-width="1.25"/>
<rect x="292.85" y="570.70" width="16.20" height="6.10" fill="#333333" stroke="#000" stroke-width="1.2"/>
<line x1="325.40" y1="575.99" x2="325.40" y2="575.78" stroke="#000" stroke-width="1.25"/>
<line x1="320.80" y1="575.78" x2="330.00" y2="575.78" stroke="#000" stroke-width="1.25"/>
<line x1="316.70" y1="575.69" x2="334.10" y2="575.69" stroke="#000" stroke-width="0.9"/>
<line x1="215.30" y1="495.05" x2="215.30" y2="577.35" stroke="#000" stroke-width="1.25"/>
<line x1="212.40" y1="576.80" x2="338.10" y2="576.80" stroke="#000" stroke-width="1.25"/>
<text x="212.00" y="581.60" font-size="10.2" font-weight="bold" text-anchor="end">0.0</text>
<line x1="212.40" y1="556.50" x2="215.30" y2="556.50" stroke="#000" stroke-width="1.25"/>
<text x="212.00" y="561.30" font-size="10.2" font-weight="bold" text-anchor="end">0.2</text>
<line x1="212.40" y1="536.20" x2="215.30" y2="536.20" stroke="#000" stroke-width="1.25"/>
<text x="212.00" y="541.00" font-size="10.2" font-weight="bold" text-anchor="end">0.4</text>
<line x1="212.40" y1="515.90" x2="215.30" y2="515.90" stroke="#000" stroke-width="1.25"/>
<text x="212.00" y="520.70" font-size="10.2" font-weight="bold" text-anchor="end">0.6</text>
<line x1="212.40" y1="495.60" x2="215.30" y2="495.60" stroke="#000" stroke-width="1.25"/>
<text x="212.00" y="500.40" font-size="10.2" font-weight="bold" text-anchor="end">0.8</text>
<text x="229.50" y="586.50" font-size="10.1" font-weight="bold" text-anchor="end" transform="rotate(-45 229.50 586.50)">HeLa wt</text>
<text x="253.95" y="586.50" font-size="10.1" font-weight="bold" text-anchor="end" transform="rotate(-45 253.95 586.50)">HeLa-Ii</text>
<text x="278.40" y="586.50" font-size="10.1" font-weight="bold" text-anchor="end" transform="rotate(-45 278.40 586.50)">HeLa-DM</text>
<text x="302.85" y="586.50" font-size="10.1" font-weight="bold" text-anchor="end" transform="rotate(-45 302.85 586.50)">HeLa-Ii/DM</text>
<text x="327.30" y="586.50" font-size="10.1" font-weight="bold" text-anchor="end" transform="rotate(-45 327.30 586.50)">no target</text>
<line x1="391.90" y1="555.49" x2="391.90" y2="551.22" stroke="#000" stroke-width="1.25"/>
<line x1="387.30" y1="551.22" x2="396.50" y2="551.22" stroke="#000" stroke-width="1.25"/>
<rect x="383.80" y="556.09" width="16.20" height="20.71" fill="#dedede" stroke="#000" stroke-width="1.2"/>
<line x1="416.35" y1="529.10" x2="416.35" y2="528.28" stroke="#000" stroke-width="1.25"/>
<line x1="411.75" y1="528.28" x2="420.95" y2="528.28" stroke="#000" stroke-width="1.25"/>
<rect x="408.25" y="529.70" width="16.20" height="47.10" fill="#c0c0c0" stroke="#000" stroke-width="1.2"/>
<line x1="440.80" y1="567.36" x2="440.80" y2="566.65" stroke="#000" stroke-width="1.25"/>
<line x1="436.20" y1="566.65" x2="445.40" y2="566.65" stroke="#000" stroke-width="1.25"/>
<rect x="432.70" y="567.96" width="16.20" height="8.84" fill="#7e7e7e" stroke="#000" stroke-width="1.2"/>
<line x1="465.25" y1="575.48" x2="465.25" y2="575.18" stroke="#000" stroke-width="1.25"/>
<line x1="460.65" y1="575.18" x2="469.85" y2="575.18" stroke="#000" stroke-width="1.25"/>
<line x1="456.55" y1="575.18" x2="473.95" y2="575.18" stroke="#000" stroke-width="0.9"/>
<line x1="481.00" y1="576.20" x2="498.40" y2="576.20" stroke="#000" stroke-width="0.9"/>
<line x1="379.60" y1="495.05" x2="379.60" y2="577.35" stroke="#000" stroke-width="1.25"/>
<line x1="376.70" y1="576.80" x2="502.40" y2="576.80" stroke="#000" stroke-width="1.25"/>
<text x="376.30" y="581.60" font-size="10.2" font-weight="bold" text-anchor="end">0.0</text>
<line x1="376.70" y1="556.50" x2="379.60" y2="556.50" stroke="#000" stroke-width="1.25"/>
<text x="376.30" y="561.30" font-size="10.2" font-weight="bold" text-anchor="end">0.2</text>
<line x1="376.70" y1="536.20" x2="379.60" y2="536.20" stroke="#000" stroke-width="1.25"/>
<text x="376.30" y="541.00" font-size="10.2" font-weight="bold" text-anchor="end">0.4</text>
<line x1="376.70" y1="515.90" x2="379.60" y2="515.90" stroke="#000" stroke-width="1.25"/>
<text x="376.30" y="520.70" font-size="10.2" font-weight="bold" text-anchor="end">0.6</text>
<line x1="376.70" y1="495.60" x2="379.60" y2="495.60" stroke="#000" stroke-width="1.25"/>
<text x="376.30" y="500.40" font-size="10.2" font-weight="bold" text-anchor="end">0.8</text>
<text x="393.80" y="586.50" font-size="10.1" font-weight="bold" text-anchor="end" transform="rotate(-45 393.80 586.50)">HeLa wt</text>
<text x="418.25" y="586.50" font-size="10.1" font-weight="bold" text-anchor="end" transform="rotate(-45 418.25 586.50)">HeLa-Ii</text>
<text x="442.70" y="586.50" font-size="10.1" font-weight="bold" text-anchor="end" transform="rotate(-45 442.70 586.50)">HeLa-DM</text>
<text x="467.15" y="586.50" font-size="10.1" font-weight="bold" text-anchor="end" transform="rotate(-45 467.15 586.50)">HeLa-Ii/DM</text>
<text x="491.60" y="586.50" font-size="10.1" font-weight="bold" text-anchor="end" transform="rotate(-45 491.60 586.50)">no target</text>
<text x="25.00" y="372.30" font-size="12.5" font-weight="bold" text-anchor="middle" transform="rotate(-90 25.00 372.30)">IFN-<tspan font-weight="normal">γ</tspan> (ng/ml)</text>
<text x="25.00" y="538.60" font-size="12.5" font-weight="bold" text-anchor="middle" transform="rotate(-90 25.00 538.60)">IFN-<tspan font-weight="normal">γ</tspan> (ng/ml)</text>
<rect x="77.80" y="304.60" width="55.40" height="15.50" fill="#fff" stroke="#000" stroke-width="1.1"/>
<text x="105.00" y="316.70" font-size="11.35" font-weight="bold" text-anchor="middle">MTHFD1</text>
<rect x="242.80" y="304.60" width="50.50" height="15.70" fill="#fff" stroke="#000" stroke-width="1.1"/>
<text x="267.55" y="316.70" font-size="11.3" font-weight="bold" text-anchor="middle">PTK2B</text>
<rect x="410.40" y="304.60" width="43.50" height="15.50" fill="#fff" stroke="#000" stroke-width="1.1"/>
<text x="431.65" y="316.70" font-size="11.3" font-weight="bold" text-anchor="middle">DBY</text>
<rect x="82.60" y="470.90" width="44.80" height="15.40" fill="#fff" stroke="#000" stroke-width="1.1"/>
<text x="104.50" y="482.50" font-size="11.3" font-weight="bold" text-anchor="middle">LY75</text>
<rect x="245.80" y="470.90" width="44.10" height="15.30" fill="#fff" stroke="#000" stroke-width="1.1"/>
<text x="267.35" y="482.50" font-size="11.3" font-weight="bold" text-anchor="middle">MR1</text>
<rect x="408.90" y="470.90" width="46.90" height="15.40" fill="#fff" stroke="#000" stroke-width="1.1"/>
<text x="431.85" y="482.50" font-size="11.3" font-weight="bold" text-anchor="middle">PI4K2B</text>
</g>
<g id="panelC">
<text x="2.20" y="659.40" font-size="17.3" font-weight="bold" text-anchor="start">C</text>
<line x1="50.40" y1="684.95" x2="50.40" y2="762.75" stroke="#000" stroke-width="1.25"/>
<line x1="48.20" y1="762.20" x2="177.90" y2="762.20" stroke="#000" stroke-width="1.25"/>
<text x="48.20" y="767.10" font-size="9.9" font-weight="bold" text-anchor="end">0.0</text>
<line x1="48.20" y1="746.86" x2="50.40" y2="746.86" stroke="#000" stroke-width="1.25"/>
<text x="48.20" y="751.76" font-size="9.9" font-weight="bold" text-anchor="end">0.2</text>
<line x1="48.20" y1="731.52" x2="50.40" y2="731.52" stroke="#000" stroke-width="1.25"/>
<text x="48.20" y="736.42" font-size="9.9" font-weight="bold" text-anchor="end">0.4</text>
<line x1="48.20" y1="716.18" x2="50.40" y2="716.18" stroke="#000" stroke-width="1.25"/>
<text x="48.20" y="721.08" font-size="9.9" font-weight="bold" text-anchor="end">0.6</text>
<line x1="48.20" y1="700.84" x2="50.40" y2="700.84" stroke="#000" stroke-width="1.25"/>
<text x="48.20" y="705.74" font-size="9.9" font-weight="bold" text-anchor="end">0.8</text>
<line x1="48.20" y1="685.50" x2="50.40" y2="685.50" stroke="#000" stroke-width="1.25"/>
<text x="48.20" y="690.40" font-size="9.9" font-weight="bold" text-anchor="end">1.0</text>
<line x1="71.11" y1="762.20" x2="71.11" y2="764.20" stroke="#000" stroke-width="1.0"/>
<line x1="65.89" y1="762.20" x2="65.89" y2="764.20" stroke="#000" stroke-width="1.0"/>
<line x1="62.19" y1="762.20" x2="62.19" y2="764.20" stroke="#000" stroke-width="1.0"/>
<line x1="59.32" y1="762.20" x2="59.32" y2="764.20" stroke="#000" stroke-width="1.0"/>
<line x1="56.97" y1="762.20" x2="56.97" y2="764.20" stroke="#000" stroke-width="1.0"/>
<line x1="54.99" y1="762.20" x2="54.99" y2="764.20" stroke="#000" stroke-width="1.0"/>
<line x1="53.27" y1="762.20" x2="53.27" y2="764.20" stroke="#000" stroke-width="1.0"/>
<line x1="51.76" y1="762.20" x2="51.76" y2="764.20" stroke="#000" stroke-width="1.0"/>
<text x="52.20" y="771.10" font-size="9.8" font-weight="bold" text-anchor="end" transform="rotate(-45 52.20 771.10)">100000</text>
<line x1="80.03" y1="762.20" x2="80.03" y2="764.90" stroke="#000" stroke-width="1.2"/>
<line x1="100.74" y1="762.20" x2="100.74" y2="764.20" stroke="#000" stroke-width="1.0"/>
<line x1="95.52" y1="762.20" x2="95.52" y2="764.20" stroke="#000" stroke-width="1.0"/>
<line x1="91.82" y1="762.20" x2="91.82" y2="764.20" stroke="#000" stroke-width="1.0"/>
<line x1="88.95" y1="762.20" x2="88.95" y2="764.20" stroke="#000" stroke-width="1.0"/>
<line x1="86.60" y1="762.20" x2="86.60" y2="764.20" stroke="#000" stroke-width="1.0"/>
<line x1="84.62" y1="762.20" x2="84.62" y2="764.20" stroke="#000" stroke-width="1.0"/>
<line x1="82.90" y1="762.20" x2="82.90" y2="764.20" stroke="#000" stroke-width="1.0"/>
<line x1="81.39" y1="762.20" x2="81.39" y2="764.20" stroke="#000" stroke-width="1.0"/>
<text x="81.83" y="771.10" font-size="9.8" font-weight="bold" text-anchor="end" transform="rotate(-45 81.83 771.10)">10000</text>
<line x1="109.66" y1="762.20" x2="109.66" y2="764.90" stroke="#000" stroke-width="1.2"/>
<line x1="130.37" y1="762.20" x2="130.37" y2="764.20" stroke="#000" stroke-width="1.0"/>
<line x1="125.15" y1="762.20" x2="125.15" y2="764.20" stroke="#000" stroke-width="1.0"/>
<line x1="121.45" y1="762.20" x2="121.45" y2="764.20" stroke="#000" stroke-width="1.0"/>
<line x1="118.58" y1="762.20" x2="118.58" y2="764.20" stroke="#000" stroke-width="1.0"/>
<line x1="116.23" y1="762.20" x2="116.23" y2="764.20" stroke="#000" stroke-width="1.0"/>
<line x1="114.25" y1="762.20" x2="114.25" y2="764.20" stroke="#000" stroke-width="1.0"/>
<line x1="112.53" y1="762.20" x2="112.53" y2="764.20" stroke="#000" stroke-width="1.0"/>
<line x1="111.02" y1="762.20" x2="111.02" y2="764.20" stroke="#000" stroke-width="1.0"/>
<text x="111.46" y="771.10" font-size="9.8" font-weight="bold" text-anchor="end" transform="rotate(-45 111.46 771.10)">1000</text>
<line x1="139.29" y1="762.20" x2="139.29" y2="764.90" stroke="#000" stroke-width="1.2"/>
<line x1="160.00" y1="762.20" x2="160.00" y2="764.20" stroke="#000" stroke-width="1.0"/>
<line x1="154.78" y1="762.20" x2="154.78" y2="764.20" stroke="#000" stroke-width="1.0"/>
<line x1="151.08" y1="762.20" x2="151.08" y2="764.20" stroke="#000" stroke-width="1.0"/>
<line x1="148.21" y1="762.20" x2="148.21" y2="764.20" stroke="#000" stroke-width="1.0"/>
<line x1="145.86" y1="762.20" x2="145.86" y2="764.20" stroke="#000" stroke-width="1.0"/>
<line x1="143.88" y1="762.20" x2="143.88" y2="764.20" stroke="#000" stroke-width="1.0"/>
<line x1="142.16" y1="762.20" x2="142.16" y2="764.20" stroke="#000" stroke-width="1.0"/>
<line x1="140.65" y1="762.20" x2="140.65" y2="764.20" stroke="#000" stroke-width="1.0"/>
<text x="141.09" y="771.10" font-size="9.8" font-weight="bold" text-anchor="end" transform="rotate(-45 141.09 771.10)">100</text>
<line x1="168.92" y1="762.20" x2="168.92" y2="764.90" stroke="#000" stroke-width="1.2"/>
<text x="170.72" y="771.10" font-size="9.8" font-weight="bold" text-anchor="end" transform="rotate(-45 170.72 771.10)">10</text>
<polyline points="65.9,719.6 80.0,720.5 95.5,728.8 109.7,741.2 125.2,751.5 139.3,755.8 154.8,757.3 168.9,758.4" fill="none" stroke="#a8a8a8" stroke-width="1.0"/>
<path d="M65.89,718.02V721.09M64.29,718.02h3.2M64.29,721.09h3.2" stroke="#8a8a8a" stroke-width="0.7" fill="none"/>
<path d="M80.03,718.17V722.78M78.43,718.17h3.2M78.43,722.78h3.2" stroke="#8a8a8a" stroke-width="0.7" fill="none"/>
<path d="M95.52,726.46V731.06M93.92,726.46h3.2M93.92,731.06h3.2" stroke="#8a8a8a" stroke-width="0.7" fill="none"/>
<path d="M109.66,739.65V742.72M108.06,739.65h3.2M108.06,742.72h3.2" stroke="#8a8a8a" stroke-width="0.7" fill="none"/>
<polyline points="65.9,721.5 80.0,718.5 95.5,724.2 109.7,739.6 125.2,749.2 139.3,755.7 154.8,757.3 168.9,758.4" fill="none" stroke="#1a1a1a" stroke-width="1.1"/>
<path d="M65.89,720.01V723.08M64.19,720.01h3.4M64.19,723.08h3.4" stroke="#1a1a1a" stroke-width="0.8" fill="none"/>
<path d="M80.03,716.18V720.78M78.33,716.18h3.4M78.33,720.78h3.4" stroke="#1a1a1a" stroke-width="0.8" fill="none"/>
<path d="M95.52,722.62V725.69M93.82,722.62h3.4M93.82,725.69h3.4" stroke="#1a1a1a" stroke-width="0.8" fill="none"/>
<circle cx="65.89" cy="721.55" r="1.95" fill="#000"/>
<circle cx="80.03" cy="718.48" r="1.95" fill="#000"/>
<circle cx="95.52" cy="724.16" r="1.95" fill="#000"/>
<circle cx="109.66" cy="739.57" r="1.95" fill="#000"/>
<circle cx="125.15" cy="749.16" r="1.95" fill="#000"/>
<circle cx="139.29" cy="755.68" r="1.95" fill="#000"/>
<circle cx="154.78" cy="757.29" r="1.95" fill="#000"/>
<circle cx="168.92" cy="758.37" r="1.95" fill="#000"/>
<circle cx="65.89" cy="719.55" r="1.5" fill="#fff" stroke="#2e2e2e" stroke-width="1.25"/>
<circle cx="80.03" cy="720.48" r="1.5" fill="#fff" stroke="#2e2e2e" stroke-width="1.25"/>
<circle cx="95.52" cy="728.76" r="1.5" fill="#fff" stroke="#2e2e2e" stroke-width="1.25"/>
<circle cx="109.66" cy="741.18" r="1.5" fill="#fff" stroke="#2e2e2e" stroke-width="1.25"/>
<circle cx="125.15" cy="751.46" r="1.5" fill="#fff" stroke="#2e2e2e" stroke-width="1.25"/>
<circle cx="139.29" cy="755.83" r="1.5" fill="#fff" stroke="#2e2e2e" stroke-width="1.25"/>
<circle cx="154.78" cy="757.29" r="1.5" fill="#fff" stroke="#2e2e2e" stroke-width="1.25"/>
<circle cx="168.92" cy="758.37" r="1.5" fill="#fff" stroke="#2e2e2e" stroke-width="1.25"/>
<line x1="217.20" y1="684.95" x2="217.20" y2="762.75" stroke="#000" stroke-width="1.25"/>
<line x1="215.00" y1="762.20" x2="344.70" y2="762.20" stroke="#000" stroke-width="1.25"/>
<text x="215.00" y="767.10" font-size="9.9" font-weight="bold" text-anchor="end">0.0</text>
<line x1="215.00" y1="746.86" x2="217.20" y2="746.86" stroke="#000" stroke-width="1.25"/>
<text x="215.00" y="751.76" font-size="9.9" font-weight="bold" text-anchor="end">0.2</text>
<line x1="215.00" y1="731.52" x2="217.20" y2="731.52" stroke="#000" stroke-width="1.25"/>
<text x="215.00" y="736.42" font-size="9.9" font-weight="bold" text-anchor="end">0.4</text>
<line x1="215.00" y1="716.18" x2="217.20" y2="716.18" stroke="#000" stroke-width="1.25"/>
<text x="215.00" y="721.08" font-size="9.9" font-weight="bold" text-anchor="end">0.6</text>
<line x1="215.00" y1="700.84" x2="217.20" y2="700.84" stroke="#000" stroke-width="1.25"/>
<text x="215.00" y="705.74" font-size="9.9" font-weight="bold" text-anchor="end">0.8</text>
<line x1="215.00" y1="685.50" x2="217.20" y2="685.50" stroke="#000" stroke-width="1.25"/>
<text x="215.00" y="690.40" font-size="9.9" font-weight="bold" text-anchor="end">1.0</text>
<line x1="237.91" y1="762.20" x2="237.91" y2="764.20" stroke="#000" stroke-width="1.0"/>
<line x1="232.69" y1="762.20" x2="232.69" y2="764.20" stroke="#000" stroke-width="1.0"/>
<line x1="228.99" y1="762.20" x2="228.99" y2="764.20" stroke="#000" stroke-width="1.0"/>
<line x1="226.12" y1="762.20" x2="226.12" y2="764.20" stroke="#000" stroke-width="1.0"/>
<line x1="223.77" y1="762.20" x2="223.77" y2="764.20" stroke="#000" stroke-width="1.0"/>
<line x1="221.79" y1="762.20" x2="221.79" y2="764.20" stroke="#000" stroke-width="1.0"/>
<line x1="220.07" y1="762.20" x2="220.07" y2="764.20" stroke="#000" stroke-width="1.0"/>
<line x1="218.56" y1="762.20" x2="218.56" y2="764.20" stroke="#000" stroke-width="1.0"/>
<text x="219.00" y="771.10" font-size="9.8" font-weight="bold" text-anchor="end" transform="rotate(-45 219.00 771.10)">100000</text>
<line x1="246.83" y1="762.20" x2="246.83" y2="764.90" stroke="#000" stroke-width="1.2"/>
<line x1="267.54" y1="762.20" x2="267.54" y2="764.20" stroke="#000" stroke-width="1.0"/>
<line x1="262.32" y1="762.20" x2="262.32" y2="764.20" stroke="#000" stroke-width="1.0"/>
<line x1="258.62" y1="762.20" x2="258.62" y2="764.20" stroke="#000" stroke-width="1.0"/>
<line x1="255.75" y1="762.20" x2="255.75" y2="764.20" stroke="#000" stroke-width="1.0"/>
<line x1="253.40" y1="762.20" x2="253.40" y2="764.20" stroke="#000" stroke-width="1.0"/>
<line x1="251.42" y1="762.20" x2="251.42" y2="764.20" stroke="#000" stroke-width="1.0"/>
<line x1="249.70" y1="762.20" x2="249.70" y2="764.20" stroke="#000" stroke-width="1.0"/>
<line x1="248.19" y1="762.20" x2="248.19" y2="764.20" stroke="#000" stroke-width="1.0"/>
<text x="248.63" y="771.10" font-size="9.8" font-weight="bold" text-anchor="end" transform="rotate(-45 248.63 771.10)">10000</text>
<line x1="276.46" y1="762.20" x2="276.46" y2="764.90" stroke="#000" stroke-width="1.2"/>
<line x1="297.17" y1="762.20" x2="297.17" y2="764.20" stroke="#000" stroke-width="1.0"/>
<line x1="291.95" y1="762.20" x2="291.95" y2="764.20" stroke="#000" stroke-width="1.0"/>
<line x1="288.25" y1="762.20" x2="288.25" y2="764.20" stroke="#000" stroke-width="1.0"/>
<line x1="285.38" y1="762.20" x2="285.38" y2="764.20" stroke="#000" stroke-width="1.0"/>
<line x1="283.03" y1="762.20" x2="283.03" y2="764.20" stroke="#000" stroke-width="1.0"/>
<line x1="281.05" y1="762.20" x2="281.05" y2="764.20" stroke="#000" stroke-width="1.0"/>
<line x1="279.33" y1="762.20" x2="279.33" y2="764.20" stroke="#000" stroke-width="1.0"/>
<line x1="277.82" y1="762.20" x2="277.82" y2="764.20" stroke="#000" stroke-width="1.0"/>
<text x="278.26" y="771.10" font-size="9.8" font-weight="bold" text-anchor="end" transform="rotate(-45 278.26 771.10)">1000</text>
<line x1="306.09" y1="762.20" x2="306.09" y2="764.90" stroke="#000" stroke-width="1.2"/>
<line x1="326.80" y1="762.20" x2="326.80" y2="764.20" stroke="#000" stroke-width="1.0"/>
<line x1="321.58" y1="762.20" x2="321.58" y2="764.20" stroke="#000" stroke-width="1.0"/>
<line x1="317.88" y1="762.20" x2="317.88" y2="764.20" stroke="#000" stroke-width="1.0"/>
<line x1="315.01" y1="762.20" x2="315.01" y2="764.20" stroke="#000" stroke-width="1.0"/>
<line x1="312.66" y1="762.20" x2="312.66" y2="764.20" stroke="#000" stroke-width="1.0"/>
<line x1="310.68" y1="762.20" x2="310.68" y2="764.20" stroke="#000" stroke-width="1.0"/>
<line x1="308.96" y1="762.20" x2="308.96" y2="764.20" stroke="#000" stroke-width="1.0"/>
<line x1="307.45" y1="762.20" x2="307.45" y2="764.20" stroke="#000" stroke-width="1.0"/>
<text x="307.89" y="771.10" font-size="9.8" font-weight="bold" text-anchor="end" transform="rotate(-45 307.89 771.10)">100</text>
<line x1="335.72" y1="762.20" x2="335.72" y2="764.90" stroke="#000" stroke-width="1.2"/>
<text x="337.52" y="771.10" font-size="9.8" font-weight="bold" text-anchor="end" transform="rotate(-45 337.52 771.10)">10</text>
<polyline points="232.7,710.2 246.8,711.7 262.3,720.2 276.5,731.1 292.0,741.2 306.1,749.6 321.6,755.0 335.7,758.4" fill="none" stroke="#a8a8a8" stroke-width="1.0"/>
<path d="M232.69,707.13V713.27M231.09,707.13h3.2M231.09,713.27h3.2" stroke="#8a8a8a" stroke-width="0.7" fill="none"/>
<path d="M276.46,728.84V733.44M274.86,728.84h3.2M274.86,733.44h3.2" stroke="#8a8a8a" stroke-width="0.7" fill="none"/>
<path d="M306.09,748.09V751.16M304.49,748.09h3.2M304.49,751.16h3.2" stroke="#8a8a8a" stroke-width="0.7" fill="none"/>
<polyline points="232.7,710.2 246.8,711.7 262.3,709.6 276.5,720.0 292.0,736.1 306.1,746.1 321.6,751.9 335.7,758.4" fill="none" stroke="#1a1a1a" stroke-width="1.1"/>
<path d="M232.69,704.83V715.57M230.99,704.83h3.4M230.99,715.57h3.4" stroke="#1a1a1a" stroke-width="0.8" fill="none"/>
<path d="M276.46,714.26V725.77M274.76,714.26h3.4M274.76,725.77h3.4" stroke="#1a1a1a" stroke-width="0.8" fill="none"/>
<path d="M306.09,743.41V748.78M304.39,743.41h3.4M304.39,748.78h3.4" stroke="#1a1a1a" stroke-width="0.8" fill="none"/>
<path d="M321.58,750.77V753.07M319.88,750.77h3.4M319.88,753.07h3.4" stroke="#1a1a1a" stroke-width="0.8" fill="none"/>
<circle cx="232.69" cy="710.20" r="1.95" fill="#000"/>
<circle cx="246.83" cy="711.73" r="1.95" fill="#000"/>
<circle cx="262.32" cy="709.58" r="1.95" fill="#000"/>
<circle cx="276.46" cy="720.01" r="1.95" fill="#000"/>
<circle cx="291.95" cy="736.12" r="1.95" fill="#000"/>
<circle cx="306.09" cy="746.09" r="1.95" fill="#000"/>
<circle cx="321.58" cy="751.92" r="1.95" fill="#000"/>
<circle cx="335.72" cy="758.37" r="1.95" fill="#000"/>
<circle cx="232.69" cy="710.20" r="1.5" fill="#fff" stroke="#2e2e2e" stroke-width="1.25"/>
<circle cx="246.83" cy="711.73" r="1.5" fill="#fff" stroke="#2e2e2e" stroke-width="1.25"/>
<circle cx="262.32" cy="720.17" r="1.5" fill="#fff" stroke="#2e2e2e" stroke-width="1.25"/>
<circle cx="276.46" cy="731.14" r="1.5" fill="#fff" stroke="#2e2e2e" stroke-width="1.25"/>
<circle cx="291.95" cy="741.18" r="1.5" fill="#fff" stroke="#2e2e2e" stroke-width="1.25"/>
<circle cx="306.09" cy="749.62" r="1.5" fill="#fff" stroke="#2e2e2e" stroke-width="1.25"/>
<circle cx="321.58" cy="754.99" r="1.5" fill="#fff" stroke="#2e2e2e" stroke-width="1.25"/>
<circle cx="335.72" cy="758.37" r="1.5" fill="#fff" stroke="#2e2e2e" stroke-width="1.25"/>
<line x1="383.30" y1="684.95" x2="383.30" y2="762.75" stroke="#000" stroke-width="1.25"/>
<line x1="381.10" y1="762.20" x2="510.80" y2="762.20" stroke="#000" stroke-width="1.25"/>
<text x="381.10" y="767.10" font-size="9.9" font-weight="bold" text-anchor="end">0.0</text>
<line x1="381.10" y1="746.86" x2="383.30" y2="746.86" stroke="#000" stroke-width="1.25"/>
<text x="381.10" y="751.76" font-size="9.9" font-weight="bold" text-anchor="end">0.2</text>
<line x1="381.10" y1="731.52" x2="383.30" y2="731.52" stroke="#000" stroke-width="1.25"/>
<text x="381.10" y="736.42" font-size="9.9" font-weight="bold" text-anchor="end">0.4</text>
<line x1="381.10" y1="716.18" x2="383.30" y2="716.18" stroke="#000" stroke-width="1.25"/>
<text x="381.10" y="721.08" font-size="9.9" font-weight="bold" text-anchor="end">0.6</text>
<line x1="381.10" y1="700.84" x2="383.30" y2="700.84" stroke="#000" stroke-width="1.25"/>
<text x="381.10" y="705.74" font-size="9.9" font-weight="bold" text-anchor="end">0.8</text>
<line x1="381.10" y1="685.50" x2="383.30" y2="685.50" stroke="#000" stroke-width="1.25"/>
<text x="381.10" y="690.40" font-size="9.9" font-weight="bold" text-anchor="end">1.0</text>
<line x1="404.01" y1="762.20" x2="404.01" y2="764.20" stroke="#000" stroke-width="1.0"/>
<line x1="398.79" y1="762.20" x2="398.79" y2="764.20" stroke="#000" stroke-width="1.0"/>
<line x1="395.09" y1="762.20" x2="395.09" y2="764.20" stroke="#000" stroke-width="1.0"/>
<line x1="392.22" y1="762.20" x2="392.22" y2="764.20" stroke="#000" stroke-width="1.0"/>
<line x1="389.87" y1="762.20" x2="389.87" y2="764.20" stroke="#000" stroke-width="1.0"/>
<line x1="387.89" y1="762.20" x2="387.89" y2="764.20" stroke="#000" stroke-width="1.0"/>
<line x1="386.17" y1="762.20" x2="386.17" y2="764.20" stroke="#000" stroke-width="1.0"/>
<line x1="384.66" y1="762.20" x2="384.66" y2="764.20" stroke="#000" stroke-width="1.0"/>
<text x="385.10" y="771.10" font-size="9.8" font-weight="bold" text-anchor="end" transform="rotate(-45 385.10 771.10)">100000</text>
<line x1="412.93" y1="762.20" x2="412.93" y2="764.90" stroke="#000" stroke-width="1.2"/>
<line x1="433.64" y1="762.20" x2="433.64" y2="764.20" stroke="#000" stroke-width="1.0"/>
<line x1="428.42" y1="762.20" x2="428.42" y2="764.20" stroke="#000" stroke-width="1.0"/>
<line x1="424.72" y1="762.20" x2="424.72" y2="764.20" stroke="#000" stroke-width="1.0"/>
<line x1="421.85" y1="762.20" x2="421.85" y2="764.20" stroke="#000" stroke-width="1.0"/>
<line x1="419.50" y1="762.20" x2="419.50" y2="764.20" stroke="#000" stroke-width="1.0"/>
<line x1="417.52" y1="762.20" x2="417.52" y2="764.20" stroke="#000" stroke-width="1.0"/>
<line x1="415.80" y1="762.20" x2="415.80" y2="764.20" stroke="#000" stroke-width="1.0"/>
<line x1="414.29" y1="762.20" x2="414.29" y2="764.20" stroke="#000" stroke-width="1.0"/>
<text x="414.73" y="771.10" font-size="9.8" font-weight="bold" text-anchor="end" transform="rotate(-45 414.73 771.10)">10000</text>
<line x1="442.56" y1="762.20" x2="442.56" y2="764.90" stroke="#000" stroke-width="1.2"/>
<line x1="463.27" y1="762.20" x2="463.27" y2="764.20" stroke="#000" stroke-width="1.0"/>
<line x1="458.05" y1="762.20" x2="458.05" y2="764.20" stroke="#000" stroke-width="1.0"/>
<line x1="454.35" y1="762.20" x2="454.35" y2="764.20" stroke="#000" stroke-width="1.0"/>
<line x1="451.48" y1="762.20" x2="451.48" y2="764.20" stroke="#000" stroke-width="1.0"/>
<line x1="449.13" y1="762.20" x2="449.13" y2="764.20" stroke="#000" stroke-width="1.0"/>
<line x1="447.15" y1="762.20" x2="447.15" y2="764.20" stroke="#000" stroke-width="1.0"/>
<line x1="445.43" y1="762.20" x2="445.43" y2="764.20" stroke="#000" stroke-width="1.0"/>
<line x1="443.92" y1="762.20" x2="443.92" y2="764.20" stroke="#000" stroke-width="1.0"/>
<text x="444.36" y="771.10" font-size="9.8" font-weight="bold" text-anchor="end" transform="rotate(-45 444.36 771.10)">1000</text>
<line x1="472.19" y1="762.20" x2="472.19" y2="764.90" stroke="#000" stroke-width="1.2"/>
<line x1="492.90" y1="762.20" x2="492.90" y2="764.20" stroke="#000" stroke-width="1.0"/>
<line x1="487.68" y1="762.20" x2="487.68" y2="764.20" stroke="#000" stroke-width="1.0"/>
<line x1="483.98" y1="762.20" x2="483.98" y2="764.20" stroke="#000" stroke-width="1.0"/>
<line x1="481.11" y1="762.20" x2="481.11" y2="764.20" stroke="#000" stroke-width="1.0"/>
<line x1="478.76" y1="762.20" x2="478.76" y2="764.20" stroke="#000" stroke-width="1.0"/>
<line x1="476.78" y1="762.20" x2="476.78" y2="764.20" stroke="#000" stroke-width="1.0"/>
<line x1="475.06" y1="762.20" x2="475.06" y2="764.20" stroke="#000" stroke-width="1.0"/>
<line x1="473.55" y1="762.20" x2="473.55" y2="764.20" stroke="#000" stroke-width="1.0"/>
<text x="473.99" y="771.10" font-size="9.8" font-weight="bold" text-anchor="end" transform="rotate(-45 473.99 771.10)">100</text>
<line x1="501.82" y1="762.20" x2="501.82" y2="764.90" stroke="#000" stroke-width="1.2"/>
<text x="503.62" y="771.10" font-size="9.8" font-weight="bold" text-anchor="end" transform="rotate(-45 503.62 771.10)">10</text>
<polyline points="398.8,708.1 412.9,709.6 428.4,708.9 442.6,713.1 458.1,722.6 472.2,734.7 487.7,752.4 501.8,758.1" fill="none" stroke="#a8a8a8" stroke-width="1.0"/>
<path d="M428.42,706.59V711.19M426.82,706.59h3.2M426.82,711.19h3.2" stroke="#8a8a8a" stroke-width="0.7" fill="none"/>
<path d="M458.05,721.09V724.16M456.45,721.09h3.2M456.45,724.16h3.2" stroke="#8a8a8a" stroke-width="0.7" fill="none"/>
<path d="M472.19,730.52V738.96M470.59,730.52h3.2M470.59,738.96h3.2" stroke="#8a8a8a" stroke-width="0.7" fill="none"/>
<polyline points="398.8,710.4 412.9,709.6 428.4,711.2 442.6,714.8 458.1,722.6 472.2,739.2 487.7,749.4 501.8,758.1" fill="none" stroke="#1a1a1a" stroke-width="1.1"/>
<path d="M428.42,708.51V713.88M426.72,708.51h3.4M426.72,713.88h3.4" stroke="#1a1a1a" stroke-width="0.8" fill="none"/>
<circle cx="398.79" cy="710.43" r="1.95" fill="#000"/>
<circle cx="412.93" cy="709.58" r="1.95" fill="#000"/>
<circle cx="428.42" cy="711.19" r="1.95" fill="#000"/>
<circle cx="442.56" cy="714.80" r="1.95" fill="#000"/>
<circle cx="458.05" cy="722.62" r="1.95" fill="#000"/>
<circle cx="472.19" cy="739.19" r="1.95" fill="#000"/>
<circle cx="487.68" cy="749.39" r="1.95" fill="#000"/>
<circle cx="501.82" cy="758.13" r="1.95" fill="#000"/>
<circle cx="398.79" cy="708.13" r="1.5" fill="#fff" stroke="#2e2e2e" stroke-width="1.25"/>
<circle cx="412.93" cy="709.58" r="1.5" fill="#fff" stroke="#2e2e2e" stroke-width="1.25"/>
<circle cx="428.42" cy="708.89" r="1.5" fill="#fff" stroke="#2e2e2e" stroke-width="1.25"/>
<circle cx="442.56" cy="713.11" r="1.5" fill="#fff" stroke="#2e2e2e" stroke-width="1.25"/>
<circle cx="458.05" cy="722.62" r="1.5" fill="#fff" stroke="#2e2e2e" stroke-width="1.25"/>
<circle cx="472.19" cy="734.74" r="1.5" fill="#fff" stroke="#2e2e2e" stroke-width="1.25"/>
<circle cx="487.68" cy="752.38" r="1.5" fill="#fff" stroke="#2e2e2e" stroke-width="1.25"/>
<circle cx="501.82" cy="758.13" r="1.5" fill="#fff" stroke="#2e2e2e" stroke-width="1.25"/>
<line x1="50.40" y1="823.45" x2="50.40" y2="900.55" stroke="#000" stroke-width="1.25"/>
<line x1="48.20" y1="900.00" x2="177.90" y2="900.00" stroke="#000" stroke-width="1.25"/>
<text x="48.20" y="904.90" font-size="9.9" font-weight="bold" text-anchor="end">0.0</text>
<line x1="48.20" y1="884.80" x2="50.40" y2="884.80" stroke="#000" stroke-width="1.25"/>
<text x="48.20" y="889.70" font-size="9.9" font-weight="bold" text-anchor="end">0.2</text>
<line x1="48.20" y1="869.60" x2="50.40" y2="869.60" stroke="#000" stroke-width="1.25"/>
<text x="48.20" y="874.50" font-size="9.9" font-weight="bold" text-anchor="end">0.4</text>
<line x1="48.20" y1="854.40" x2="50.40" y2="854.40" stroke="#000" stroke-width="1.25"/>
<text x="48.20" y="859.30" font-size="9.9" font-weight="bold" text-anchor="end">0.6</text>
<line x1="48.20" y1="839.20" x2="50.40" y2="839.20" stroke="#000" stroke-width="1.25"/>
<text x="48.20" y="844.10" font-size="9.9" font-weight="bold" text-anchor="end">0.8</text>
<line x1="48.20" y1="824.00" x2="50.40" y2="824.00" stroke="#000" stroke-width="1.25"/>
<text x="48.20" y="828.90" font-size="9.9" font-weight="bold" text-anchor="end">1.0</text>
<line x1="71.11" y1="900.00" x2="71.11" y2="902.00" stroke="#000" stroke-width="1.0"/>
<line x1="65.89" y1="900.00" x2="65.89" y2="902.00" stroke="#000" stroke-width="1.0"/>
<line x1="62.19" y1="900.00" x2="62.19" y2="902.00" stroke="#000" stroke-width="1.0"/>
<line x1="59.32" y1="900.00" x2="59.32" y2="902.00" stroke="#000" stroke-width="1.0"/>
<line x1="56.97" y1="900.00" x2="56.97" y2="902.00" stroke="#000" stroke-width="1.0"/>
<line x1="54.99" y1="900.00" x2="54.99" y2="902.00" stroke="#000" stroke-width="1.0"/>
<line x1="53.27" y1="900.00" x2="53.27" y2="902.00" stroke="#000" stroke-width="1.0"/>
<line x1="51.76" y1="900.00" x2="51.76" y2="902.00" stroke="#000" stroke-width="1.0"/>
<text x="52.20" y="908.90" font-size="9.8" font-weight="bold" text-anchor="end" transform="rotate(-45 52.20 908.90)">100000</text>
<line x1="80.03" y1="900.00" x2="80.03" y2="902.70" stroke="#000" stroke-width="1.2"/>
<line x1="100.74" y1="900.00" x2="100.74" y2="902.00" stroke="#000" stroke-width="1.0"/>
<line x1="95.52" y1="900.00" x2="95.52" y2="902.00" stroke="#000" stroke-width="1.0"/>
<line x1="91.82" y1="900.00" x2="91.82" y2="902.00" stroke="#000" stroke-width="1.0"/>
<line x1="88.95" y1="900.00" x2="88.95" y2="902.00" stroke="#000" stroke-width="1.0"/>
<line x1="86.60" y1="900.00" x2="86.60" y2="902.00" stroke="#000" stroke-width="1.0"/>
<line x1="84.62" y1="900.00" x2="84.62" y2="902.00" stroke="#000" stroke-width="1.0"/>
<line x1="82.90" y1="900.00" x2="82.90" y2="902.00" stroke="#000" stroke-width="1.0"/>
<line x1="81.39" y1="900.00" x2="81.39" y2="902.00" stroke="#000" stroke-width="1.0"/>
<text x="81.83" y="908.90" font-size="9.8" font-weight="bold" text-anchor="end" transform="rotate(-45 81.83 908.90)">10000</text>
<line x1="109.66" y1="900.00" x2="109.66" y2="902.70" stroke="#000" stroke-width="1.2"/>
<line x1="130.37" y1="900.00" x2="130.37" y2="902.00" stroke="#000" stroke-width="1.0"/>
<line x1="125.15" y1="900.00" x2="125.15" y2="902.00" stroke="#000" stroke-width="1.0"/>
<line x1="121.45" y1="900.00" x2="121.45" y2="902.00" stroke="#000" stroke-width="1.0"/>
<line x1="118.58" y1="900.00" x2="118.58" y2="902.00" stroke="#000" stroke-width="1.0"/>
<line x1="116.23" y1="900.00" x2="116.23" y2="902.00" stroke="#000" stroke-width="1.0"/>
<line x1="114.25" y1="900.00" x2="114.25" y2="902.00" stroke="#000" stroke-width="1.0"/>
<line x1="112.53" y1="900.00" x2="112.53" y2="902.00" stroke="#000" stroke-width="1.0"/>
<line x1="111.02" y1="900.00" x2="111.02" y2="902.00" stroke="#000" stroke-width="1.0"/>
<text x="111.46" y="908.90" font-size="9.8" font-weight="bold" text-anchor="end" transform="rotate(-45 111.46 908.90)">1000</text>
<line x1="139.29" y1="900.00" x2="139.29" y2="902.70" stroke="#000" stroke-width="1.2"/>
<line x1="160.00" y1="900.00" x2="160.00" y2="902.00" stroke="#000" stroke-width="1.0"/>
<line x1="154.78" y1="900.00" x2="154.78" y2="902.00" stroke="#000" stroke-width="1.0"/>
<line x1="151.08" y1="900.00" x2="151.08" y2="902.00" stroke="#000" stroke-width="1.0"/>
<line x1="148.21" y1="900.00" x2="148.21" y2="902.00" stroke="#000" stroke-width="1.0"/>
<line x1="145.86" y1="900.00" x2="145.86" y2="902.00" stroke="#000" stroke-width="1.0"/>
<line x1="143.88" y1="900.00" x2="143.88" y2="902.00" stroke="#000" stroke-width="1.0"/>
<line x1="142.16" y1="900.00" x2="142.16" y2="902.00" stroke="#000" stroke-width="1.0"/>
<line x1="140.65" y1="900.00" x2="140.65" y2="902.00" stroke="#000" stroke-width="1.0"/>
<text x="141.09" y="908.90" font-size="9.8" font-weight="bold" text-anchor="end" transform="rotate(-45 141.09 908.90)">100</text>
<line x1="168.92" y1="900.00" x2="168.92" y2="902.70" stroke="#000" stroke-width="1.2"/>
<text x="170.72" y="908.90" font-size="9.8" font-weight="bold" text-anchor="end" transform="rotate(-45 170.72 908.90)">10</text>
<polyline points="65.9,868.2 80.0,871.3 95.5,874.8 109.7,880.2 125.2,883.5 139.3,887.7 154.8,891.0 168.9,896.2" fill="none" stroke="#a8a8a8" stroke-width="1.0"/>
<path d="M95.52,871.73V877.81M93.92,871.73h3.2M93.92,877.81h3.2" stroke="#8a8a8a" stroke-width="0.7" fill="none"/>
<polyline points="65.9,862.0 80.0,853.6 95.5,852.1 109.7,859.7 125.2,866.9 139.3,877.4 154.8,880.2 168.9,896.2" fill="none" stroke="#1a1a1a" stroke-width="1.1"/>
<path d="M65.89,855.16V865.80M64.19,855.16h3.4M64.19,865.80h3.4" stroke="#1a1a1a" stroke-width="0.8" fill="none"/>
<path d="M109.66,855.54V863.90M107.96,855.54h3.4M107.96,863.90h3.4" stroke="#1a1a1a" stroke-width="0.8" fill="none"/>
<circle cx="65.89" cy="862.00" r="1.95" fill="#000"/>
<circle cx="80.03" cy="853.64" r="1.95" fill="#000"/>
<circle cx="95.52" cy="852.12" r="1.95" fill="#000"/>
<circle cx="109.66" cy="859.72" r="1.95" fill="#000"/>
<circle cx="125.15" cy="866.94" r="1.95" fill="#000"/>
<circle cx="139.29" cy="877.43" r="1.95" fill="#000"/>
<circle cx="154.78" cy="880.24" r="1.95" fill="#000"/>
<circle cx="168.92" cy="896.20" r="1.95" fill="#000"/>
<circle cx="65.89" cy="868.23" r="1.5" fill="#fff" stroke="#2e2e2e" stroke-width="1.25"/>
<circle cx="80.03" cy="871.27" r="1.5" fill="#fff" stroke="#2e2e2e" stroke-width="1.25"/>
<circle cx="95.52" cy="874.77" r="1.5" fill="#fff" stroke="#2e2e2e" stroke-width="1.25"/>
<circle cx="109.66" cy="880.24" r="1.5" fill="#fff" stroke="#2e2e2e" stroke-width="1.25"/>
<circle cx="125.15" cy="883.51" r="1.5" fill="#fff" stroke="#2e2e2e" stroke-width="1.25"/>
<circle cx="139.29" cy="887.69" r="1.5" fill="#fff" stroke="#2e2e2e" stroke-width="1.25"/>
<circle cx="154.78" cy="891.03" r="1.5" fill="#fff" stroke="#2e2e2e" stroke-width="1.25"/>
<circle cx="168.92" cy="896.20" r="1.5" fill="#fff" stroke="#2e2e2e" stroke-width="1.25"/>
<line x1="217.20" y1="823.45" x2="217.20" y2="900.55" stroke="#000" stroke-width="1.25"/>
<line x1="215.00" y1="900.00" x2="344.70" y2="900.00" stroke="#000" stroke-width="1.25"/>
<text x="215.00" y="904.90" font-size="9.9" font-weight="bold" text-anchor="end">0.0</text>
<line x1="215.00" y1="884.80" x2="217.20" y2="884.80" stroke="#000" stroke-width="1.25"/>
<text x="215.00" y="889.70" font-size="9.9" font-weight="bold" text-anchor="end">0.2</text>
<line x1="215.00" y1="869.60" x2="217.20" y2="869.60" stroke="#000" stroke-width="1.25"/>
<text x="215.00" y="874.50" font-size="9.9" font-weight="bold" text-anchor="end">0.4</text>
<line x1="215.00" y1="854.40" x2="217.20" y2="854.40" stroke="#000" stroke-width="1.25"/>
<text x="215.00" y="859.30" font-size="9.9" font-weight="bold" text-anchor="end">0.6</text>
<line x1="215.00" y1="839.20" x2="217.20" y2="839.20" stroke="#000" stroke-width="1.25"/>
<text x="215.00" y="844.10" font-size="9.9" font-weight="bold" text-anchor="end">0.8</text>
<line x1="215.00" y1="824.00" x2="217.20" y2="824.00" stroke="#000" stroke-width="1.25"/>
<text x="215.00" y="828.90" font-size="9.9" font-weight="bold" text-anchor="end">1.0</text>
<line x1="237.91" y1="900.00" x2="237.91" y2="902.00" stroke="#000" stroke-width="1.0"/>
<line x1="232.69" y1="900.00" x2="232.69" y2="902.00" stroke="#000" stroke-width="1.0"/>
<line x1="228.99" y1="900.00" x2="228.99" y2="902.00" stroke="#000" stroke-width="1.0"/>
<line x1="226.12" y1="900.00" x2="226.12" y2="902.00" stroke="#000" stroke-width="1.0"/>
<line x1="223.77" y1="900.00" x2="223.77" y2="902.00" stroke="#000" stroke-width="1.0"/>
<line x1="221.79" y1="900.00" x2="221.79" y2="902.00" stroke="#000" stroke-width="1.0"/>
<line x1="220.07" y1="900.00" x2="220.07" y2="902.00" stroke="#000" stroke-width="1.0"/>
<line x1="218.56" y1="900.00" x2="218.56" y2="902.00" stroke="#000" stroke-width="1.0"/>
<text x="219.00" y="908.90" font-size="9.8" font-weight="bold" text-anchor="end" transform="rotate(-45 219.00 908.90)">100000</text>
<line x1="246.83" y1="900.00" x2="246.83" y2="902.70" stroke="#000" stroke-width="1.2"/>
<line x1="267.54" y1="900.00" x2="267.54" y2="902.00" stroke="#000" stroke-width="1.0"/>
<line x1="262.32" y1="900.00" x2="262.32" y2="902.00" stroke="#000" stroke-width="1.0"/>
<line x1="258.62" y1="900.00" x2="258.62" y2="902.00" stroke="#000" stroke-width="1.0"/>
<line x1="255.75" y1="900.00" x2="255.75" y2="902.00" stroke="#000" stroke-width="1.0"/>
<line x1="253.40" y1="900.00" x2="253.40" y2="902.00" stroke="#000" stroke-width="1.0"/>
<line x1="251.42" y1="900.00" x2="251.42" y2="902.00" stroke="#000" stroke-width="1.0"/>
<line x1="249.70" y1="900.00" x2="249.70" y2="902.00" stroke="#000" stroke-width="1.0"/>
<line x1="248.19" y1="900.00" x2="248.19" y2="902.00" stroke="#000" stroke-width="1.0"/>
<text x="248.63" y="908.90" font-size="9.8" font-weight="bold" text-anchor="end" transform="rotate(-45 248.63 908.90)">10000</text>
<line x1="276.46" y1="900.00" x2="276.46" y2="902.70" stroke="#000" stroke-width="1.2"/>
<line x1="297.17" y1="900.00" x2="297.17" y2="902.00" stroke="#000" stroke-width="1.0"/>
<line x1="291.95" y1="900.00" x2="291.95" y2="902.00" stroke="#000" stroke-width="1.0"/>
<line x1="288.25" y1="900.00" x2="288.25" y2="902.00" stroke="#000" stroke-width="1.0"/>
<line x1="285.38" y1="900.00" x2="285.38" y2="902.00" stroke="#000" stroke-width="1.0"/>
<line x1="283.03" y1="900.00" x2="283.03" y2="902.00" stroke="#000" stroke-width="1.0"/>
<line x1="281.05" y1="900.00" x2="281.05" y2="902.00" stroke="#000" stroke-width="1.0"/>
<line x1="279.33" y1="900.00" x2="279.33" y2="902.00" stroke="#000" stroke-width="1.0"/>
<line x1="277.82" y1="900.00" x2="277.82" y2="902.00" stroke="#000" stroke-width="1.0"/>
<text x="278.26" y="908.90" font-size="9.8" font-weight="bold" text-anchor="end" transform="rotate(-45 278.26 908.90)">1000</text>
<line x1="306.09" y1="900.00" x2="306.09" y2="902.70" stroke="#000" stroke-width="1.2"/>
<line x1="326.80" y1="900.00" x2="326.80" y2="902.00" stroke="#000" stroke-width="1.0"/>
<line x1="321.58" y1="900.00" x2="321.58" y2="902.00" stroke="#000" stroke-width="1.0"/>
<line x1="317.88" y1="900.00" x2="317.88" y2="902.00" stroke="#000" stroke-width="1.0"/>
<line x1="315.01" y1="900.00" x2="315.01" y2="902.00" stroke="#000" stroke-width="1.0"/>
<line x1="312.66" y1="900.00" x2="312.66" y2="902.00" stroke="#000" stroke-width="1.0"/>
<line x1="310.68" y1="900.00" x2="310.68" y2="902.00" stroke="#000" stroke-width="1.0"/>
<line x1="308.96" y1="900.00" x2="308.96" y2="902.00" stroke="#000" stroke-width="1.0"/>
<line x1="307.45" y1="900.00" x2="307.45" y2="902.00" stroke="#000" stroke-width="1.0"/>
<text x="307.89" y="908.90" font-size="9.8" font-weight="bold" text-anchor="end" transform="rotate(-45 307.89 908.90)">100</text>
<line x1="335.72" y1="900.00" x2="335.72" y2="902.70" stroke="#000" stroke-width="1.2"/>
<text x="337.52" y="908.90" font-size="9.8" font-weight="bold" text-anchor="end" transform="rotate(-45 337.52 908.90)">10</text>
<polyline points="232.7,881.5 246.8,885.8 262.3,889.7 276.5,891.9 292.0,894.6 306.1,895.4 321.6,895.7 335.7,895.8" fill="none" stroke="#a8a8a8" stroke-width="1.0"/>
<path d="M232.69,879.25V883.81M231.09,879.25h3.2M231.09,883.81h3.2" stroke="#8a8a8a" stroke-width="0.7" fill="none"/>
<polyline points="232.7,842.6 246.8,839.2 262.3,844.5 276.5,856.6 292.0,875.1 306.1,885.1 321.6,890.0 335.7,895.8" fill="none" stroke="#1a1a1a" stroke-width="1.1"/>
<path d="M246.83,835.78V842.62M245.13,835.78h3.4M245.13,842.62h3.4" stroke="#1a1a1a" stroke-width="0.8" fill="none"/>
<path d="M262.32,841.48V847.56M260.62,841.48h3.4M260.62,847.56h3.4" stroke="#1a1a1a" stroke-width="0.8" fill="none"/>
<path d="M276.46,852.04V861.16M274.76,852.04h3.4M274.76,861.16h3.4" stroke="#1a1a1a" stroke-width="0.8" fill="none"/>
<circle cx="232.69" cy="842.62" r="1.95" fill="#000"/>
<circle cx="246.83" cy="839.20" r="1.95" fill="#000"/>
<circle cx="262.32" cy="844.52" r="1.95" fill="#000"/>
<circle cx="276.46" cy="856.60" r="1.95" fill="#000"/>
<circle cx="291.95" cy="875.07" r="1.95" fill="#000"/>
<circle cx="306.09" cy="885.10" r="1.95" fill="#000"/>
<circle cx="321.58" cy="889.97" r="1.95" fill="#000"/>
<circle cx="335.72" cy="895.82" r="1.95" fill="#000"/>
<circle cx="232.69" cy="881.53" r="1.5" fill="#fff" stroke="#2e2e2e" stroke-width="1.25"/>
<circle cx="246.83" cy="885.79" r="1.5" fill="#fff" stroke="#2e2e2e" stroke-width="1.25"/>
<circle cx="262.32" cy="889.66" r="1.5" fill="#fff" stroke="#2e2e2e" stroke-width="1.25"/>
<circle cx="276.46" cy="891.87" r="1.5" fill="#fff" stroke="#2e2e2e" stroke-width="1.25"/>
<circle cx="291.95" cy="894.60" r="1.5" fill="#fff" stroke="#2e2e2e" stroke-width="1.25"/>
<circle cx="306.09" cy="895.44" r="1.5" fill="#fff" stroke="#2e2e2e" stroke-width="1.25"/>
<circle cx="321.58" cy="895.67" r="1.5" fill="#fff" stroke="#2e2e2e" stroke-width="1.25"/>
<circle cx="335.72" cy="895.82" r="1.5" fill="#fff" stroke="#2e2e2e" stroke-width="1.25"/>
<line x1="383.30" y1="823.45" x2="383.30" y2="900.55" stroke="#000" stroke-width="1.25"/>
<line x1="381.10" y1="900.00" x2="510.80" y2="900.00" stroke="#000" stroke-width="1.25"/>
<text x="381.10" y="904.90" font-size="9.9" font-weight="bold" text-anchor="end">0.0</text>
<line x1="381.10" y1="884.80" x2="383.30" y2="884.80" stroke="#000" stroke-width="1.25"/>
<text x="381.10" y="889.70" font-size="9.9" font-weight="bold" text-anchor="end">0.2</text>
<line x1="381.10" y1="869.60" x2="383.30" y2="869.60" stroke="#000" stroke-width="1.25"/>
<text x="381.10" y="874.50" font-size="9.9" font-weight="bold" text-anchor="end">0.4</text>
<line x1="381.10" y1="854.40" x2="383.30" y2="854.40" stroke="#000" stroke-width="1.25"/>
<text x="381.10" y="859.30" font-size="9.9" font-weight="bold" text-anchor="end">0.6</text>
<line x1="381.10" y1="839.20" x2="383.30" y2="839.20" stroke="#000" stroke-width="1.25"/>
<text x="381.10" y="844.10" font-size="9.9" font-weight="bold" text-anchor="end">0.8</text>
<line x1="381.10" y1="824.00" x2="383.30" y2="824.00" stroke="#000" stroke-width="1.25"/>
<text x="381.10" y="828.90" font-size="9.9" font-weight="bold" text-anchor="end">1.0</text>
<line x1="404.01" y1="900.00" x2="404.01" y2="902.00" stroke="#000" stroke-width="1.0"/>
<line x1="398.79" y1="900.00" x2="398.79" y2="902.00" stroke="#000" stroke-width="1.0"/>
<line x1="395.09" y1="900.00" x2="395.09" y2="902.00" stroke="#000" stroke-width="1.0"/>
<line x1="392.22" y1="900.00" x2="392.22" y2="902.00" stroke="#000" stroke-width="1.0"/>
<line x1="389.87" y1="900.00" x2="389.87" y2="902.00" stroke="#000" stroke-width="1.0"/>
<line x1="387.89" y1="900.00" x2="387.89" y2="902.00" stroke="#000" stroke-width="1.0"/>
<line x1="386.17" y1="900.00" x2="386.17" y2="902.00" stroke="#000" stroke-width="1.0"/>
<line x1="384.66" y1="900.00" x2="384.66" y2="902.00" stroke="#000" stroke-width="1.0"/>
<text x="385.10" y="908.90" font-size="9.8" font-weight="bold" text-anchor="end" transform="rotate(-45 385.10 908.90)">100000</text>
<line x1="412.93" y1="900.00" x2="412.93" y2="902.70" stroke="#000" stroke-width="1.2"/>
<line x1="433.64" y1="900.00" x2="433.64" y2="902.00" stroke="#000" stroke-width="1.0"/>
<line x1="428.42" y1="900.00" x2="428.42" y2="902.00" stroke="#000" stroke-width="1.0"/>
<line x1="424.72" y1="900.00" x2="424.72" y2="902.00" stroke="#000" stroke-width="1.0"/>
<line x1="421.85" y1="900.00" x2="421.85" y2="902.00" stroke="#000" stroke-width="1.0"/>
<line x1="419.50" y1="900.00" x2="419.50" y2="902.00" stroke="#000" stroke-width="1.0"/>
<line x1="417.52" y1="900.00" x2="417.52" y2="902.00" stroke="#000" stroke-width="1.0"/>
<line x1="415.80" y1="900.00" x2="415.80" y2="902.00" stroke="#000" stroke-width="1.0"/>
<line x1="414.29" y1="900.00" x2="414.29" y2="902.00" stroke="#000" stroke-width="1.0"/>
<text x="414.73" y="908.90" font-size="9.8" font-weight="bold" text-anchor="end" transform="rotate(-45 414.73 908.90)">10000</text>
<line x1="442.56" y1="900.00" x2="442.56" y2="902.70" stroke="#000" stroke-width="1.2"/>
<line x1="463.27" y1="900.00" x2="463.27" y2="902.00" stroke="#000" stroke-width="1.0"/>
<line x1="458.05" y1="900.00" x2="458.05" y2="902.00" stroke="#000" stroke-width="1.0"/>
<line x1="454.35" y1="900.00" x2="454.35" y2="902.00" stroke="#000" stroke-width="1.0"/>
<line x1="451.48" y1="900.00" x2="451.48" y2="902.00" stroke="#000" stroke-width="1.0"/>
<line x1="449.13" y1="900.00" x2="449.13" y2="902.00" stroke="#000" stroke-width="1.0"/>
<line x1="447.15" y1="900.00" x2="447.15" y2="902.00" stroke="#000" stroke-width="1.0"/>
<line x1="445.43" y1="900.00" x2="445.43" y2="902.00" stroke="#000" stroke-width="1.0"/>
<line x1="443.92" y1="900.00" x2="443.92" y2="902.00" stroke="#000" stroke-width="1.0"/>
<text x="444.36" y="908.90" font-size="9.8" font-weight="bold" text-anchor="end" transform="rotate(-45 444.36 908.90)">1000</text>
<line x1="472.19" y1="900.00" x2="472.19" y2="902.70" stroke="#000" stroke-width="1.2"/>
<line x1="492.90" y1="900.00" x2="492.90" y2="902.00" stroke="#000" stroke-width="1.0"/>
<line x1="487.68" y1="900.00" x2="487.68" y2="902.00" stroke="#000" stroke-width="1.0"/>
<line x1="483.98" y1="900.00" x2="483.98" y2="902.00" stroke="#000" stroke-width="1.0"/>
<line x1="481.11" y1="900.00" x2="481.11" y2="902.00" stroke="#000" stroke-width="1.0"/>
<line x1="478.76" y1="900.00" x2="478.76" y2="902.00" stroke="#000" stroke-width="1.0"/>
<line x1="476.78" y1="900.00" x2="476.78" y2="902.00" stroke="#000" stroke-width="1.0"/>
<line x1="475.06" y1="900.00" x2="475.06" y2="902.00" stroke="#000" stroke-width="1.0"/>
<line x1="473.55" y1="900.00" x2="473.55" y2="902.00" stroke="#000" stroke-width="1.0"/>
<text x="473.99" y="908.90" font-size="9.8" font-weight="bold" text-anchor="end" transform="rotate(-45 473.99 908.90)">100</text>
<line x1="501.82" y1="900.00" x2="501.82" y2="902.70" stroke="#000" stroke-width="1.2"/>
<text x="503.62" y="908.90" font-size="9.8" font-weight="bold" text-anchor="end" transform="rotate(-45 503.62 908.90)">10</text>
<polyline points="398.8,866.6 412.9,869.3 428.4,879.6 442.6,887.9 458.1,893.2 472.2,894.9 487.7,895.6 501.8,896.2" fill="none" stroke="#a8a8a8" stroke-width="1.0"/>
<polyline points="398.8,843.8 412.9,837.3 428.4,844.2 442.6,848.1 458.1,862.3 472.2,881.8 487.7,891.4 501.8,896.2" fill="none" stroke="#1a1a1a" stroke-width="1.1"/>
<path d="M442.56,844.67V851.51M440.86,844.67h3.4M440.86,851.51h3.4" stroke="#1a1a1a" stroke-width="0.8" fill="none"/>
<path d="M458.05,855.84V868.76M456.35,855.84h3.4M456.35,868.76h3.4" stroke="#1a1a1a" stroke-width="0.8" fill="none"/>
<rect x="396.89" y="841.86" width="3.8" height="3.8" fill="#000"/>
<rect x="411.03" y="835.40" width="3.8" height="3.8" fill="#000"/>
<circle cx="428.42" cy="844.22" r="1.95" fill="#000"/>
<circle cx="442.56" cy="848.09" r="1.95" fill="#000"/>
<circle cx="458.05" cy="862.30" r="1.95" fill="#000"/>
<circle cx="472.19" cy="881.76" r="1.95" fill="#000"/>
<circle cx="487.68" cy="891.41" r="1.95" fill="#000"/>
<circle cx="501.82" cy="896.20" r="1.95" fill="#000"/>
<circle cx="398.79" cy="866.56" r="1.5" fill="#fff" stroke="#2e2e2e" stroke-width="1.25"/>
<circle cx="412.93" cy="869.30" r="1.5" fill="#fff" stroke="#2e2e2e" stroke-width="1.25"/>
<circle cx="428.42" cy="879.63" r="1.5" fill="#fff" stroke="#2e2e2e" stroke-width="1.25"/>
<circle cx="442.56" cy="887.92" r="1.5" fill="#fff" stroke="#2e2e2e" stroke-width="1.25"/>
<circle cx="458.05" cy="893.16" r="1.5" fill="#fff" stroke="#2e2e2e" stroke-width="1.25"/>
<circle cx="472.19" cy="894.91" r="1.5" fill="#fff" stroke="#2e2e2e" stroke-width="1.25"/>
<circle cx="487.68" cy="895.59" r="1.5" fill="#fff" stroke="#2e2e2e" stroke-width="1.25"/>
<circle cx="501.82" cy="896.20" r="1.5" fill="#fff" stroke="#2e2e2e" stroke-width="1.25"/>
<text x="23.00" y="722.10" font-size="12.1" font-weight="bold" text-anchor="middle" transform="rotate(-90 23.00 722.10)">IFN-<tspan font-weight="normal">γ</tspan> (ng/ml)</text>
<text x="23.00" y="860.20" font-size="12.1" font-weight="bold" text-anchor="middle" transform="rotate(-90 23.00 860.20)">IFN-<tspan font-weight="normal">γ</tspan> (ng/ml)</text>
<rect x="81.00" y="661.90" width="48.00" height="15.50" fill="#fff" stroke="#000" stroke-width="1.5"/>
<text x="104.50" y="674.30" font-size="10.8" font-weight="bold" text-anchor="middle">MTHFD1</text>
<rect x="249.40" y="661.90" width="47.70" height="15.90" fill="#fff" stroke="#000" stroke-width="1.5"/>
<text x="272.75" y="674.20" font-size="10.5" font-weight="bold" text-anchor="middle">PTK2B</text>
<rect x="416.80" y="662.30" width="44.10" height="14.60" fill="#fff" stroke="#000" stroke-width="1.3"/>
<text x="438.35" y="673.40" font-size="10.5" font-weight="bold" text-anchor="middle">DBY</text>
<rect x="83.20" y="800.50" width="44.70" height="15.30" fill="#fff" stroke="#000" stroke-width="1.3"/>
<text x="105.05" y="812.20" font-size="10.5" font-weight="bold" text-anchor="middle">LY75</text>
<rect x="250.80" y="800.50" width="45.20" height="15.00" fill="#fff" stroke="#000" stroke-width="1.3"/>
<text x="272.90" y="811.90" font-size="10.5" font-weight="bold" text-anchor="middle">MR1</text>
<rect x="416.80" y="800.90" width="44.10" height="14.10" fill="#fff" stroke="#000" stroke-width="1.3"/>
<text x="438.35" y="811.60" font-size="10.5" font-weight="bold" text-anchor="middle">PI4K2B</text>
<line x1="480.7" y1="691.0" x2="488.3" y2="691.0" stroke="#1a1a1a" stroke-width="1.0"/>
<circle cx="484.5" cy="691.0" r="2.0" fill="#000"/>
<line x1="480.7" y1="701.6" x2="488.3" y2="701.6" stroke="#b0b0b0" stroke-width="0.8"/>
<circle cx="484.5" cy="701.6" r="1.1" fill="#fff" stroke="#3a3a3a" stroke-width="1.0"/>
<text x="493.00" y="694.20" font-size="10.8" font-weight="bold" text-anchor="start">wt</text>
<text x="493.00" y="704.70" font-size="10.5" font-weight="bold" text-anchor="start">+ DM</text>
<line x1="480.0" y1="828.6" x2="487.6" y2="828.6" stroke="#1a1a1a" stroke-width="1.0"/>
<circle cx="483.8" cy="828.6" r="2.0" fill="#000"/>
<line x1="480.0" y1="840.0" x2="487.6" y2="840.0" stroke="#b0b0b0" stroke-width="0.8"/>
<circle cx="483.8" cy="840.0" r="1.1" fill="#fff" stroke="#3a3a3a" stroke-width="1.0"/>
<text x="493.00" y="831.80" font-size="10.8" font-weight="bold" text-anchor="start">wt</text>
<text x="493.00" y="843.10" font-size="10.5" font-weight="bold" text-anchor="start">+ DM</text>
<text x="277.30" y="942.30" font-size="12.4" font-weight="bold" text-anchor="middle">titrated target cells</text>
</g>
</svg>
</body>
</html>
